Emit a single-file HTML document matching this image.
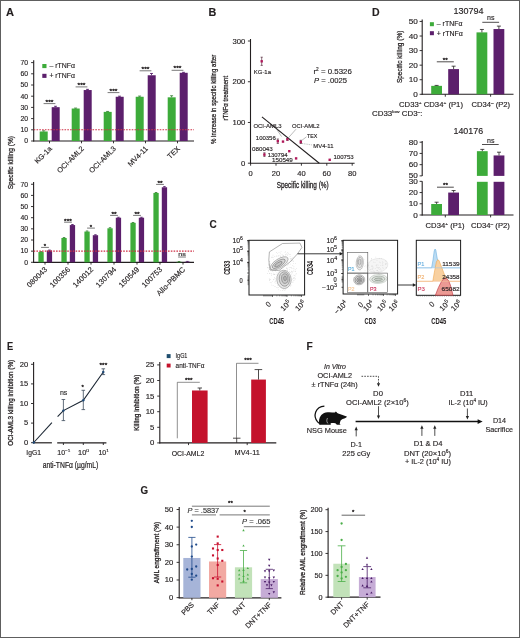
<!DOCTYPE html>
<html><head><meta charset="utf-8"><title>Figure</title>
<style>
html,body{margin:0;padding:0;background:#fff;}
body{width:520px;height:638px;overflow:hidden;position:relative;font-family:"Liberation Sans",sans-serif;}
#fig{position:absolute;left:0;top:0;width:520px;height:638px;will-change:transform;}
#frame{position:absolute;left:0;top:0;width:518px;height:636px;border:1px solid #5e5e5e;pointer-events:none;}
</style></head><body>
<div id="fig">
<svg width="520" height="638" viewBox="0 0 520 638" font-family="'Liberation Sans', sans-serif" fill="#231f20">
<text stroke="#231f20" stroke-width="0.15" x="6" y="15.6" font-size="10.6" font-weight="bold" textLength="8" lengthAdjust="spacingAndGlyphs">A</text>
<line x1="33.7" y1="60.2" x2="33.7" y2="141.5" stroke="#231f20" stroke-width="1.1" />
<line x1="31.1" y1="141" x2="33.7" y2="141" stroke="#231f20" stroke-width="0.9" />
<text stroke="#231f20" stroke-width="0.15" x="28" y="143.34" font-size="6.5" text-anchor="end" textLength="3.8" lengthAdjust="spacingAndGlyphs">0</text>
<line x1="31.1" y1="129.8" x2="33.7" y2="129.8" stroke="#231f20" stroke-width="0.9" />
<text stroke="#231f20" stroke-width="0.15" x="28" y="132.14" font-size="6.5" text-anchor="end" textLength="7.6" lengthAdjust="spacingAndGlyphs">10</text>
<line x1="31.1" y1="118.6" x2="33.7" y2="118.6" stroke="#231f20" stroke-width="0.9" />
<text stroke="#231f20" stroke-width="0.15" x="28" y="120.94" font-size="6.5" text-anchor="end" textLength="7.6" lengthAdjust="spacingAndGlyphs">20</text>
<line x1="31.1" y1="107.4" x2="33.7" y2="107.4" stroke="#231f20" stroke-width="0.9" />
<text stroke="#231f20" stroke-width="0.15" x="28" y="109.74" font-size="6.5" text-anchor="end" textLength="7.6" lengthAdjust="spacingAndGlyphs">30</text>
<line x1="31.1" y1="96.2" x2="33.7" y2="96.2" stroke="#231f20" stroke-width="0.9" />
<text stroke="#231f20" stroke-width="0.15" x="28" y="98.54" font-size="6.5" text-anchor="end" textLength="7.6" lengthAdjust="spacingAndGlyphs">40</text>
<line x1="31.1" y1="85" x2="33.7" y2="85" stroke="#231f20" stroke-width="0.9" />
<text stroke="#231f20" stroke-width="0.15" x="28" y="87.34" font-size="6.5" text-anchor="end" textLength="7.6" lengthAdjust="spacingAndGlyphs">50</text>
<line x1="31.1" y1="73.8" x2="33.7" y2="73.8" stroke="#231f20" stroke-width="0.9" />
<text stroke="#231f20" stroke-width="0.15" x="28" y="76.14" font-size="6.5" text-anchor="end" textLength="7.6" lengthAdjust="spacingAndGlyphs">60</text>
<line x1="31.1" y1="62.6" x2="33.7" y2="62.6" stroke="#231f20" stroke-width="0.9" />
<text stroke="#231f20" stroke-width="0.15" x="28" y="64.94" font-size="6.5" text-anchor="end" textLength="7.6" lengthAdjust="spacingAndGlyphs">70</text>
<line x1="33.2" y1="141" x2="194" y2="141" stroke="#231f20" stroke-width="1.2" />
<rect x="39.7" y="131.48" width="8" height="9.52" fill="#3dab3a" />
<rect x="51.7" y="107.18" width="8" height="33.82" fill="#5c1f6c" />
<line x1="43.6" y1="130.81" x2="43.6" y2="131.48" stroke="#2c7a2a" stroke-width="0.8" />
<line x1="42.1" y1="130.81" x2="45.1" y2="130.81" stroke="#2c7a2a" stroke-width="0.8" />
<line x1="55.5" y1="106.28" x2="55.5" y2="107.18" stroke="#4a1060" stroke-width="0.8" />
<line x1="54" y1="106.28" x2="57" y2="106.28" stroke="#4a1060" stroke-width="0.8" />
<line x1="49.5" y1="141" x2="49.5" y2="143.3" stroke="#231f20" stroke-width="0.9" />
<line x1="43.6" y1="103.6" x2="55.4" y2="103.6" stroke="#6a6a6a" stroke-width="0.9" />
<text stroke="#231f20" stroke-width="0.3" x="49.5" y="103.76" font-size="6" text-anchor="middle" textLength="7.8" lengthAdjust="spacingAndGlyphs">***</text>
<text stroke="#231f20" stroke-width="0.15" transform="translate(52.4,149.2) rotate(-45)" x="0" y="0" font-size="7.3" text-anchor="end">KG-1a</text>
<rect x="71.7" y="108.52" width="8" height="32.48" fill="#3dab3a" />
<rect x="83.7" y="90.04" width="8" height="50.96" fill="#5c1f6c" />
<line x1="75.6" y1="108.07" x2="75.6" y2="108.52" stroke="#2c7a2a" stroke-width="0.8" />
<line x1="74.1" y1="108.07" x2="77.1" y2="108.07" stroke="#2c7a2a" stroke-width="0.8" />
<line x1="87.5" y1="89.37" x2="87.5" y2="90.04" stroke="#4a1060" stroke-width="0.8" />
<line x1="86" y1="89.37" x2="89" y2="89.37" stroke="#4a1060" stroke-width="0.8" />
<line x1="81.5" y1="141" x2="81.5" y2="143.3" stroke="#231f20" stroke-width="0.9" />
<line x1="75.6" y1="86.9" x2="87.4" y2="86.9" stroke="#6a6a6a" stroke-width="0.9" />
<text stroke="#231f20" stroke-width="0.3" x="81.5" y="87.06" font-size="6" text-anchor="middle" textLength="7.8" lengthAdjust="spacingAndGlyphs">***</text>
<text stroke="#231f20" stroke-width="0.15" transform="translate(84.4,149.2) rotate(-45)" x="0" y="0" font-size="7.3" text-anchor="end">OCI-AML2</text>
<rect x="103.7" y="111.88" width="8" height="29.12" fill="#3dab3a" />
<rect x="115.7" y="96.76" width="8" height="44.24" fill="#5c1f6c" />
<line x1="107.6" y1="111.43" x2="107.6" y2="111.88" stroke="#2c7a2a" stroke-width="0.8" />
<line x1="106.1" y1="111.43" x2="109.1" y2="111.43" stroke="#2c7a2a" stroke-width="0.8" />
<line x1="119.5" y1="96.2" x2="119.5" y2="96.76" stroke="#4a1060" stroke-width="0.8" />
<line x1="118" y1="96.2" x2="121" y2="96.2" stroke="#4a1060" stroke-width="0.8" />
<line x1="113.5" y1="141" x2="113.5" y2="143.3" stroke="#231f20" stroke-width="0.9" />
<line x1="107.6" y1="92.6" x2="119.4" y2="92.6" stroke="#6a6a6a" stroke-width="0.9" />
<text stroke="#231f20" stroke-width="0.3" x="113.5" y="92.76" font-size="6" text-anchor="middle" textLength="7.8" lengthAdjust="spacingAndGlyphs">***</text>
<text stroke="#231f20" stroke-width="0.15" transform="translate(116.4,149.2) rotate(-45)" x="0" y="0" font-size="7.3" text-anchor="end">OCI-AML3</text>
<rect x="135.7" y="96.76" width="8" height="44.24" fill="#3dab3a" />
<rect x="147.7" y="75.26" width="8" height="65.74" fill="#5c1f6c" />
<line x1="139.6" y1="96.09" x2="139.6" y2="96.76" stroke="#2c7a2a" stroke-width="0.8" />
<line x1="138.1" y1="96.09" x2="141.1" y2="96.09" stroke="#2c7a2a" stroke-width="0.8" />
<line x1="151.5" y1="73.46" x2="151.5" y2="75.26" stroke="#4a1060" stroke-width="0.8" />
<line x1="150" y1="73.46" x2="153" y2="73.46" stroke="#4a1060" stroke-width="0.8" />
<line x1="145.5" y1="141" x2="145.5" y2="143.3" stroke="#231f20" stroke-width="0.9" />
<line x1="139.6" y1="70.8" x2="151.4" y2="70.8" stroke="#6a6a6a" stroke-width="0.9" />
<text stroke="#231f20" stroke-width="0.3" x="145.5" y="70.96" font-size="6" text-anchor="middle" textLength="7.8" lengthAdjust="spacingAndGlyphs">***</text>
<text stroke="#231f20" stroke-width="0.15" transform="translate(148.4,149.2) rotate(-45)" x="0" y="0" font-size="7.3" text-anchor="end">MV4-11</text>
<rect x="167.7" y="97.32" width="8" height="43.68" fill="#3dab3a" />
<rect x="179.7" y="72.79" width="8" height="68.21" fill="#5c1f6c" />
<line x1="171.6" y1="95.75" x2="171.6" y2="97.32" stroke="#2c7a2a" stroke-width="0.8" />
<line x1="170.1" y1="95.75" x2="173.1" y2="95.75" stroke="#2c7a2a" stroke-width="0.8" />
<line x1="183.5" y1="72.34" x2="183.5" y2="72.79" stroke="#4a1060" stroke-width="0.8" />
<line x1="182" y1="72.34" x2="185" y2="72.34" stroke="#4a1060" stroke-width="0.8" />
<line x1="177.5" y1="141" x2="177.5" y2="143.3" stroke="#231f20" stroke-width="0.9" />
<line x1="171.6" y1="70.3" x2="183.4" y2="70.3" stroke="#6a6a6a" stroke-width="0.9" />
<text stroke="#231f20" stroke-width="0.3" x="177.5" y="70.46" font-size="6" text-anchor="middle" textLength="7.8" lengthAdjust="spacingAndGlyphs">***</text>
<text stroke="#231f20" stroke-width="0.15" transform="translate(180.4,149.2) rotate(-45)" x="0" y="0" font-size="7.3" text-anchor="end">TEX</text>
<line x1="33.7" y1="129.8" x2="194" y2="129.8" stroke="#cf3045" stroke-width="1.1" stroke-dasharray="1.6,1.2" />
<rect x="42.3" y="64" width="4.2" height="4.1" fill="#3dab3a" />
<rect x="42.3" y="73.8" width="4.2" height="4.1" fill="#5c1f6c" />
<text stroke="#231f20" stroke-width="0.15" x="49.4" y="68.3" font-size="7" textLength="25.6" lengthAdjust="spacingAndGlyphs">– rTNFα</text>
<text stroke="#231f20" stroke-width="0.15" x="49.4" y="78.1" font-size="7" textLength="25.6" lengthAdjust="spacingAndGlyphs">+ rTNFα</text>
<text stroke="#231f20" stroke-width="0.28" transform="translate(12.8,162.7) rotate(-90)" x="0" y="0" font-size="7.8" text-anchor="middle" textLength="53.3" lengthAdjust="spacingAndGlyphs">Specific killing (%)</text>
<line x1="33.6" y1="182" x2="33.6" y2="262.8" stroke="#231f20" stroke-width="1.1" />
<line x1="31" y1="262.3" x2="33.6" y2="262.3" stroke="#231f20" stroke-width="0.9" />
<text stroke="#231f20" stroke-width="0.15" x="28" y="264.64" font-size="6.5" text-anchor="end" textLength="3.8" lengthAdjust="spacingAndGlyphs">0</text>
<line x1="31" y1="251.15" x2="33.6" y2="251.15" stroke="#231f20" stroke-width="0.9" />
<text stroke="#231f20" stroke-width="0.15" x="28" y="253.49" font-size="6.5" text-anchor="end" textLength="7.6" lengthAdjust="spacingAndGlyphs">10</text>
<line x1="31" y1="240" x2="33.6" y2="240" stroke="#231f20" stroke-width="0.9" />
<text stroke="#231f20" stroke-width="0.15" x="28" y="242.34" font-size="6.5" text-anchor="end" textLength="7.6" lengthAdjust="spacingAndGlyphs">20</text>
<line x1="31" y1="228.85" x2="33.6" y2="228.85" stroke="#231f20" stroke-width="0.9" />
<text stroke="#231f20" stroke-width="0.15" x="28" y="231.19" font-size="6.5" text-anchor="end" textLength="7.6" lengthAdjust="spacingAndGlyphs">30</text>
<line x1="31" y1="217.7" x2="33.6" y2="217.7" stroke="#231f20" stroke-width="0.9" />
<text stroke="#231f20" stroke-width="0.15" x="28" y="220.04" font-size="6.5" text-anchor="end" textLength="7.6" lengthAdjust="spacingAndGlyphs">40</text>
<line x1="31" y1="206.55" x2="33.6" y2="206.55" stroke="#231f20" stroke-width="0.9" />
<text stroke="#231f20" stroke-width="0.15" x="28" y="208.89" font-size="6.5" text-anchor="end" textLength="7.6" lengthAdjust="spacingAndGlyphs">50</text>
<line x1="31" y1="195.4" x2="33.6" y2="195.4" stroke="#231f20" stroke-width="0.9" />
<text stroke="#231f20" stroke-width="0.15" x="28" y="197.74" font-size="6.5" text-anchor="end" textLength="7.6" lengthAdjust="spacingAndGlyphs">60</text>
<line x1="31" y1="184.25" x2="33.6" y2="184.25" stroke="#231f20" stroke-width="0.9" />
<text stroke="#231f20" stroke-width="0.15" x="28" y="186.59" font-size="6.5" text-anchor="end" textLength="7.6" lengthAdjust="spacingAndGlyphs">70</text>
<line x1="33.1" y1="262.3" x2="194" y2="262.3" stroke="#231f20" stroke-width="1.2" />
<rect x="38.4" y="252.04" width="5.3" height="10.26" fill="#3dab3a" />
<rect x="46.8" y="250.48" width="5.3" height="11.82" fill="#5c1f6c" />
<line x1="41.05" y1="251.6" x2="41.05" y2="252.04" stroke="#2c7a2a" stroke-width="0.8" />
<line x1="39.8" y1="251.6" x2="42.3" y2="251.6" stroke="#2c7a2a" stroke-width="0.8" />
<line x1="49.45" y1="250.04" x2="49.45" y2="250.48" stroke="#4a1060" stroke-width="0.8" />
<line x1="48.2" y1="250.04" x2="50.7" y2="250.04" stroke="#4a1060" stroke-width="0.8" />
<line x1="45" y1="262.3" x2="45" y2="264.6" stroke="#231f20" stroke-width="0.9" />
<line x1="41.1" y1="247.4" x2="48.9" y2="247.4" stroke="#6a6a6a" stroke-width="0.9" />
<text stroke="#231f20" stroke-width="0.3" x="45" y="248.16" font-size="6" text-anchor="middle">*</text>
<text stroke="#231f20" stroke-width="0.15" transform="translate(47.7,270) rotate(-45)" x="0" y="0" font-size="7.6" text-anchor="end">080043</text>
<rect x="61.4" y="237.99" width="5.3" height="24.31" fill="#3dab3a" />
<rect x="69.8" y="225.06" width="5.3" height="37.24" fill="#5c1f6c" />
<line x1="64.05" y1="237.55" x2="64.05" y2="237.99" stroke="#2c7a2a" stroke-width="0.8" />
<line x1="62.8" y1="237.55" x2="65.3" y2="237.55" stroke="#2c7a2a" stroke-width="0.8" />
<line x1="72.45" y1="224.5" x2="72.45" y2="225.06" stroke="#4a1060" stroke-width="0.8" />
<line x1="71.2" y1="224.5" x2="73.7" y2="224.5" stroke="#4a1060" stroke-width="0.8" />
<line x1="68" y1="262.3" x2="68" y2="264.6" stroke="#231f20" stroke-width="0.9" />
<line x1="64.1" y1="222.2" x2="71.9" y2="222.2" stroke="#6a6a6a" stroke-width="0.9" />
<text stroke="#231f20" stroke-width="0.3" x="68" y="222.96" font-size="6" text-anchor="middle" textLength="7.8" lengthAdjust="spacingAndGlyphs">***</text>
<text stroke="#231f20" stroke-width="0.15" transform="translate(70.7,270) rotate(-45)" x="0" y="0" font-size="7.6" text-anchor="end">100356</text>
<rect x="84.4" y="231.53" width="5.3" height="30.77" fill="#3dab3a" />
<rect x="92.8" y="235.21" width="5.3" height="27.09" fill="#5c1f6c" />
<line x1="87.05" y1="230.97" x2="87.05" y2="231.53" stroke="#2c7a2a" stroke-width="0.8" />
<line x1="85.8" y1="230.97" x2="88.3" y2="230.97" stroke="#2c7a2a" stroke-width="0.8" />
<line x1="95.45" y1="234.76" x2="95.45" y2="235.21" stroke="#4a1060" stroke-width="0.8" />
<line x1="94.2" y1="234.76" x2="96.7" y2="234.76" stroke="#4a1060" stroke-width="0.8" />
<line x1="91" y1="262.3" x2="91" y2="264.6" stroke="#231f20" stroke-width="0.9" />
<line x1="87.1" y1="228.1" x2="94.9" y2="228.1" stroke="#6a6a6a" stroke-width="0.9" />
<text stroke="#231f20" stroke-width="0.3" x="91" y="228.86" font-size="6" text-anchor="middle">*</text>
<text stroke="#231f20" stroke-width="0.15" transform="translate(93.7,270) rotate(-45)" x="0" y="0" font-size="7.6" text-anchor="end">140012</text>
<rect x="107.4" y="228.29" width="5.3" height="34.01" fill="#3dab3a" />
<rect x="115.8" y="217.7" width="5.3" height="44.6" fill="#5c1f6c" />
<line x1="110.05" y1="227.74" x2="110.05" y2="228.29" stroke="#2c7a2a" stroke-width="0.8" />
<line x1="108.8" y1="227.74" x2="111.3" y2="227.74" stroke="#2c7a2a" stroke-width="0.8" />
<line x1="118.45" y1="217.25" x2="118.45" y2="217.7" stroke="#4a1060" stroke-width="0.8" />
<line x1="117.2" y1="217.25" x2="119.7" y2="217.25" stroke="#4a1060" stroke-width="0.8" />
<line x1="114" y1="262.3" x2="114" y2="264.6" stroke="#231f20" stroke-width="0.9" />
<line x1="110.1" y1="215.4" x2="117.9" y2="215.4" stroke="#6a6a6a" stroke-width="0.9" />
<text stroke="#231f20" stroke-width="0.3" x="114" y="216.16" font-size="6" text-anchor="middle" textLength="5.2" lengthAdjust="spacingAndGlyphs">**</text>
<text stroke="#231f20" stroke-width="0.15" transform="translate(116.7,270) rotate(-45)" x="0" y="0" font-size="7.6" text-anchor="end">130794</text>
<rect x="130.4" y="222.83" width="5.3" height="39.47" fill="#3dab3a" />
<rect x="138.8" y="217.7" width="5.3" height="44.6" fill="#5c1f6c" />
<line x1="133.05" y1="222.49" x2="133.05" y2="222.83" stroke="#2c7a2a" stroke-width="0.8" />
<line x1="131.8" y1="222.49" x2="134.3" y2="222.49" stroke="#2c7a2a" stroke-width="0.8" />
<line x1="141.45" y1="217.25" x2="141.45" y2="217.7" stroke="#4a1060" stroke-width="0.8" />
<line x1="140.2" y1="217.25" x2="142.7" y2="217.25" stroke="#4a1060" stroke-width="0.8" />
<line x1="137" y1="262.3" x2="137" y2="264.6" stroke="#231f20" stroke-width="0.9" />
<line x1="133.1" y1="215.4" x2="140.9" y2="215.4" stroke="#6a6a6a" stroke-width="0.9" />
<text stroke="#231f20" stroke-width="0.3" x="137" y="216.16" font-size="6" text-anchor="middle" textLength="5.2" lengthAdjust="spacingAndGlyphs">**</text>
<text stroke="#231f20" stroke-width="0.15" transform="translate(139.7,270) rotate(-45)" x="0" y="0" font-size="7.6" text-anchor="end">150549</text>
<rect x="153.4" y="192.95" width="5.3" height="69.35" fill="#3dab3a" />
<rect x="161.8" y="187.26" width="5.3" height="75.04" fill="#5c1f6c" />
<line x1="156.05" y1="192.5" x2="156.05" y2="192.95" stroke="#2c7a2a" stroke-width="0.8" />
<line x1="154.8" y1="192.5" x2="157.3" y2="192.5" stroke="#2c7a2a" stroke-width="0.8" />
<line x1="164.45" y1="186.59" x2="164.45" y2="187.26" stroke="#4a1060" stroke-width="0.8" />
<line x1="163.2" y1="186.59" x2="165.7" y2="186.59" stroke="#4a1060" stroke-width="0.8" />
<line x1="160" y1="262.3" x2="160" y2="264.6" stroke="#231f20" stroke-width="0.9" />
<line x1="156.1" y1="184.4" x2="163.9" y2="184.4" stroke="#6a6a6a" stroke-width="0.9" />
<text stroke="#231f20" stroke-width="0.3" x="160" y="185.16" font-size="6" text-anchor="middle" textLength="5.2" lengthAdjust="spacingAndGlyphs">**</text>
<text stroke="#231f20" stroke-width="0.15" transform="translate(162.7,270) rotate(-45)" x="0" y="0" font-size="7.6" text-anchor="end">100753</text>
<rect x="176.4" y="261.85" width="5.3" height="0.45" fill="#3dab3a" />
<rect x="184.8" y="261.74" width="5.3" height="0.56" fill="#5c1f6c" />
<line x1="179.05" y1="261.52" x2="179.05" y2="261.85" stroke="#2c7a2a" stroke-width="0.8" />
<line x1="177.8" y1="261.52" x2="180.3" y2="261.52" stroke="#2c7a2a" stroke-width="0.8" />
<line x1="187.45" y1="261.41" x2="187.45" y2="261.74" stroke="#4a1060" stroke-width="0.8" />
<line x1="186.2" y1="261.41" x2="188.7" y2="261.41" stroke="#4a1060" stroke-width="0.8" />
<line x1="183" y1="262.3" x2="183" y2="264.6" stroke="#231f20" stroke-width="0.9" />
<line x1="178.1" y1="257" x2="185.9" y2="257" stroke="#6a6a6a" stroke-width="0.9" />
<text stroke="#231f20" stroke-width="0.15" x="182" y="255.6" font-size="6.2" text-anchor="middle" textLength="7.6" lengthAdjust="spacingAndGlyphs">ns</text>
<text stroke="#231f20" stroke-width="0.15" transform="translate(185.7,270) rotate(-45)" x="0" y="0" font-size="7.6" text-anchor="end">Allo-PBMC</text>
<line x1="33.6" y1="251.15" x2="194" y2="251.15" stroke="#cf3045" stroke-width="1.1" stroke-dasharray="1.6,1.2" />
<text stroke="#231f20" stroke-width="0.15" x="208.6" y="16.3" font-size="10.6" font-weight="bold" textLength="7.8" lengthAdjust="spacingAndGlyphs">B</text>
<line x1="250.5" y1="39" x2="250.5" y2="163.7" stroke="#231f20" stroke-width="1.1" />
<line x1="247.9" y1="163.2" x2="250.5" y2="163.2" stroke="#231f20" stroke-width="0.9" />
<text stroke="#231f20" stroke-width="0.15" x="245.4" y="165.9" font-size="7.4" text-anchor="end" textLength="4.3" lengthAdjust="spacingAndGlyphs">0</text>
<line x1="247.9" y1="122.47" x2="250.5" y2="122.47" stroke="#231f20" stroke-width="0.9" />
<text stroke="#231f20" stroke-width="0.15" x="245.4" y="125.17" font-size="7.4" text-anchor="end" textLength="12.9" lengthAdjust="spacingAndGlyphs">100</text>
<line x1="247.9" y1="81.74" x2="250.5" y2="81.74" stroke="#231f20" stroke-width="0.9" />
<text stroke="#231f20" stroke-width="0.15" x="245.4" y="84.44" font-size="7.4" text-anchor="end" textLength="12.9" lengthAdjust="spacingAndGlyphs">200</text>
<line x1="247.9" y1="41.01" x2="250.5" y2="41.01" stroke="#231f20" stroke-width="0.9" />
<text stroke="#231f20" stroke-width="0.15" x="245.4" y="43.71" font-size="7.4" text-anchor="end" textLength="12.9" lengthAdjust="spacingAndGlyphs">300</text>
<line x1="250" y1="163.2" x2="354.6" y2="163.2" stroke="#231f20" stroke-width="1.1" />
<line x1="250.6" y1="163.2" x2="250.6" y2="165.7" stroke="#231f20" stroke-width="0.9" />
<text stroke="#231f20" stroke-width="0.15" x="250.6" y="176" font-size="7.4" text-anchor="middle" textLength="4.2" lengthAdjust="spacingAndGlyphs">0</text>
<line x1="276" y1="163.2" x2="276" y2="165.7" stroke="#231f20" stroke-width="0.9" />
<text stroke="#231f20" stroke-width="0.15" x="276" y="176" font-size="7.4" text-anchor="middle" textLength="8.4" lengthAdjust="spacingAndGlyphs">20</text>
<line x1="301.4" y1="163.2" x2="301.4" y2="165.7" stroke="#231f20" stroke-width="0.9" />
<text stroke="#231f20" stroke-width="0.15" x="301.4" y="176" font-size="7.4" text-anchor="middle" textLength="8.4" lengthAdjust="spacingAndGlyphs">40</text>
<line x1="326.8" y1="163.2" x2="326.8" y2="165.7" stroke="#231f20" stroke-width="0.9" />
<text stroke="#231f20" stroke-width="0.15" x="326.8" y="176" font-size="7.4" text-anchor="middle" textLength="8.4" lengthAdjust="spacingAndGlyphs">60</text>
<line x1="352.2" y1="163.2" x2="352.2" y2="165.7" stroke="#231f20" stroke-width="0.9" />
<text stroke="#231f20" stroke-width="0.15" x="352.2" y="176" font-size="7.4" text-anchor="middle" textLength="8.4" lengthAdjust="spacingAndGlyphs">80</text>
<text stroke="#231f20" stroke-width="0.28" x="302.7" y="187.8" font-size="8.3" text-anchor="middle" textLength="52" lengthAdjust="spacingAndGlyphs">Specific killing (%)</text>
<text stroke="#231f20" stroke-width="0.28" transform="translate(215.5,99.4) rotate(-90)" x="0" y="0" font-size="8" text-anchor="middle" textLength="89.3" lengthAdjust="spacingAndGlyphs">% increase in specific killing after</text>
<text stroke="#231f20" stroke-width="0.28" transform="translate(228.2,98.2) rotate(-90)" x="0" y="0" font-size="8" text-anchor="middle" textLength="44.6" lengthAdjust="spacingAndGlyphs">rTNFα treatment</text>
<line x1="261.9" y1="116.9" x2="319.3" y2="163.2" stroke="#231f20" stroke-width="1.1" />
<line x1="261.7" y1="57.2" x2="261.7" y2="65.4" stroke="#3a0a20" stroke-width="0.6" />
<line x1="260.6" y1="57.2" x2="262.8" y2="57.2" stroke="#3a0a20" stroke-width="0.6" />
<line x1="260.6" y1="65.4" x2="262.8" y2="65.4" stroke="#3a0a20" stroke-width="0.6" />
<rect x="260.5" y="60.1" width="2.4" height="2.4" fill="#b0185a" />
<line x1="277.8" y1="139" x2="277.8" y2="143.4" stroke="#3a0a20" stroke-width="0.6" />
<line x1="276.7" y1="139" x2="278.9" y2="139" stroke="#3a0a20" stroke-width="0.6" />
<line x1="276.7" y1="143.4" x2="278.9" y2="143.4" stroke="#3a0a20" stroke-width="0.6" />
<rect x="276.6" y="140" width="2.4" height="2.4" fill="#b0185a" />
<rect x="281.8" y="140.4" width="2.4" height="2.4" fill="#b0185a" />
<line x1="287.4" y1="138.4" x2="287.4" y2="140.4" stroke="#3a0a20" stroke-width="0.6" />
<line x1="286.3" y1="138.4" x2="288.5" y2="138.4" stroke="#3a0a20" stroke-width="0.6" />
<line x1="286.3" y1="140.4" x2="288.5" y2="140.4" stroke="#3a0a20" stroke-width="0.6" />
<rect x="286.2" y="138.2" width="2.4" height="2.4" fill="#b0185a" />
<line x1="264.4" y1="152.8" x2="264.4" y2="156.4" stroke="#3a0a20" stroke-width="0.6" />
<line x1="263.3" y1="152.8" x2="265.5" y2="152.8" stroke="#3a0a20" stroke-width="0.6" />
<line x1="263.3" y1="156.4" x2="265.5" y2="156.4" stroke="#3a0a20" stroke-width="0.6" />
<rect x="263.2" y="153.4" width="2.4" height="2.4" fill="#b0185a" />
<rect x="288.1" y="150" width="2.4" height="2.4" fill="#b0185a" />
<rect x="294.9" y="157.2" width="2.4" height="2.4" fill="#b0185a" />
<line x1="300.8" y1="140.3" x2="300.8" y2="143.5" stroke="#3a0a20" stroke-width="0.6" />
<line x1="299.7" y1="140.3" x2="301.9" y2="140.3" stroke="#3a0a20" stroke-width="0.6" />
<line x1="299.7" y1="143.5" x2="301.9" y2="143.5" stroke="#3a0a20" stroke-width="0.6" />
<rect x="299.6" y="140.7" width="2.4" height="2.4" fill="#b0185a" />
<rect x="328.5" y="158.6" width="2.4" height="2.4" fill="#b0185a" />
<text stroke="#231f20" stroke-width="0.15" x="253.8" y="74.2" font-size="6.2" textLength="17.2" lengthAdjust="spacingAndGlyphs">KG-1a</text>
<text stroke="#231f20" stroke-width="0.15" x="253.4" y="128.4" font-size="6.2" textLength="28.2" lengthAdjust="spacingAndGlyphs">OCI-AML3</text>
<text stroke="#231f20" stroke-width="0.15" x="292" y="128.4" font-size="6.2" textLength="27.6" lengthAdjust="spacingAndGlyphs">OCI-AML2</text>
<text stroke="#231f20" stroke-width="0.15" x="255.8" y="140.3" font-size="6.2" textLength="20" lengthAdjust="spacingAndGlyphs">100356</text>
<text stroke="#231f20" stroke-width="0.15" x="252" y="151.3" font-size="6.2" textLength="20.8" lengthAdjust="spacingAndGlyphs">080043</text>
<text stroke="#231f20" stroke-width="0.15" x="267.7" y="156.8" font-size="6.2" textLength="19.8" lengthAdjust="spacingAndGlyphs">130794</text>
<text stroke="#231f20" stroke-width="0.15" x="272" y="162" font-size="6.2" textLength="20.8" lengthAdjust="spacingAndGlyphs">150549</text>
<text stroke="#231f20" stroke-width="0.15" x="307" y="137.6" font-size="6.2" textLength="10.2" lengthAdjust="spacingAndGlyphs">TEX</text>
<text stroke="#231f20" stroke-width="0.15" x="313.3" y="147.8" font-size="6.2" textLength="20.2" lengthAdjust="spacingAndGlyphs">MV4-11</text>
<text stroke="#231f20" stroke-width="0.15" x="333.5" y="158.9" font-size="6.2" textLength="20.2" lengthAdjust="spacingAndGlyphs">100753</text>
<line x1="288.4" y1="137.8" x2="296" y2="129.2" stroke="#777" stroke-width="0.5" />
<line x1="301.5" y1="140.6" x2="306.5" y2="136.8" stroke="#777" stroke-width="0.5" />
<line x1="302" y1="143.5" x2="312.5" y2="145" stroke="#777" stroke-width="0.5" stroke-dasharray="1,0.8" />
<line x1="276.3" y1="128.8" x2="281.5" y2="136.5" stroke="#777" stroke-width="0.5" />
<text stroke="#231f20" stroke-width="0.15" x="313.5" y="73.9" font-size="7.6" textLength="38.3" lengthAdjust="spacingAndGlyphs">r<tspan font-size="4.6" dy="-2.6">2</tspan><tspan dy="2.6"> = 0.5326</tspan></text>
<text stroke="#231f20" stroke-width="0.15" x="314" y="82.7" font-size="7.6" textLength="33" lengthAdjust="spacingAndGlyphs"><tspan font-style="italic">P</tspan> = .0025</text>
<text stroke="#231f20" stroke-width="0.15" x="372" y="15.6" font-size="10.6" font-weight="bold" textLength="7.6" lengthAdjust="spacingAndGlyphs">D</text>
<text stroke="#231f20" stroke-width="0.15" x="468.4" y="14.2" font-size="8.4" text-anchor="middle" textLength="30" lengthAdjust="spacingAndGlyphs">130794</text>
<line x1="422.2" y1="19.5" x2="422.2" y2="94.8" stroke="#231f20" stroke-width="1.1" />
<line x1="419.6" y1="94.3" x2="422.2" y2="94.3" stroke="#231f20" stroke-width="0.9" />
<text stroke="#231f20" stroke-width="0.15" x="417.8" y="96.9" font-size="7.4" text-anchor="end" textLength="4.55" lengthAdjust="spacingAndGlyphs">0</text>
<line x1="419.6" y1="79.73" x2="422.2" y2="79.73" stroke="#231f20" stroke-width="0.9" />
<text stroke="#231f20" stroke-width="0.15" x="417.8" y="82.33" font-size="7.4" text-anchor="end" textLength="9.1" lengthAdjust="spacingAndGlyphs">10</text>
<line x1="419.6" y1="65.16" x2="422.2" y2="65.16" stroke="#231f20" stroke-width="0.9" />
<text stroke="#231f20" stroke-width="0.15" x="417.8" y="67.76" font-size="7.4" text-anchor="end" textLength="9.1" lengthAdjust="spacingAndGlyphs">20</text>
<line x1="419.6" y1="50.59" x2="422.2" y2="50.59" stroke="#231f20" stroke-width="0.9" />
<text stroke="#231f20" stroke-width="0.15" x="417.8" y="53.19" font-size="7.4" text-anchor="end" textLength="9.1" lengthAdjust="spacingAndGlyphs">30</text>
<line x1="419.6" y1="36.02" x2="422.2" y2="36.02" stroke="#231f20" stroke-width="0.9" />
<text stroke="#231f20" stroke-width="0.15" x="417.8" y="38.62" font-size="7.4" text-anchor="end" textLength="9.1" lengthAdjust="spacingAndGlyphs">40</text>
<line x1="419.6" y1="21.45" x2="422.2" y2="21.45" stroke="#231f20" stroke-width="0.9" />
<text stroke="#231f20" stroke-width="0.15" x="417.8" y="24.05" font-size="7.4" text-anchor="end" textLength="9.1" lengthAdjust="spacingAndGlyphs">50</text>
<line x1="421.7" y1="94.3" x2="513.5" y2="94.3" stroke="#231f20" stroke-width="1.1" />
<line x1="445.3" y1="94.3" x2="445.3" y2="96.7" stroke="#231f20" stroke-width="0.9" />
<line x1="490.6" y1="94.3" x2="490.6" y2="96.7" stroke="#231f20" stroke-width="0.9" />
<rect x="431.2" y="85.85" width="10.8" height="8.45" fill="#3dab3a" />
<rect x="448.2" y="69.09" width="10.8" height="25.21" fill="#5c1f6c" />
<line x1="436.6" y1="85.41" x2="436.6" y2="85.85" stroke="#231f20" stroke-width="0.8" />
<line x1="434.6" y1="85.41" x2="438.6" y2="85.41" stroke="#231f20" stroke-width="0.8" />
<line x1="453.6" y1="66.18" x2="453.6" y2="69.09" stroke="#231f20" stroke-width="0.8" />
<line x1="451.6" y1="66.18" x2="455.6" y2="66.18" stroke="#231f20" stroke-width="0.8" />
<rect x="476.5" y="32.38" width="10.8" height="61.92" fill="#3dab3a" />
<rect x="493.5" y="29.03" width="10.8" height="65.27" fill="#5c1f6c" />
<line x1="481.9" y1="29.46" x2="481.9" y2="32.38" stroke="#231f20" stroke-width="0.8" />
<line x1="479.9" y1="29.46" x2="483.9" y2="29.46" stroke="#231f20" stroke-width="0.8" />
<line x1="498.9" y1="26.11" x2="498.9" y2="29.03" stroke="#231f20" stroke-width="0.8" />
<line x1="496.9" y1="26.11" x2="500.9" y2="26.11" stroke="#231f20" stroke-width="0.8" />
<line x1="436.8" y1="61.8" x2="453.8" y2="61.8" stroke="#231f20" stroke-width="0.8" />
<text stroke="#231f20" stroke-width="0.3" x="445.2" y="62.46" font-size="6" text-anchor="middle" textLength="5" lengthAdjust="spacingAndGlyphs">**</text>
<line x1="482.3" y1="22.3" x2="499.1" y2="22.3" stroke="#231f20" stroke-width="0.8" />
<text stroke="#231f20" stroke-width="0.15" x="490.7" y="20.2" font-size="7" text-anchor="middle" textLength="7.4" lengthAdjust="spacingAndGlyphs">ns</text>
<rect x="429.9" y="22.2" width="4" height="4" fill="#3dab3a" />
<rect x="429.9" y="31.2" width="4" height="4" fill="#5c1f6c" />
<text stroke="#231f20" stroke-width="0.15" x="436.8" y="26.3" font-size="7" textLength="25.6" lengthAdjust="spacingAndGlyphs">– rTNFα</text>
<text stroke="#231f20" stroke-width="0.15" x="436.8" y="36.1" font-size="7" textLength="26" lengthAdjust="spacingAndGlyphs">+ rTNFα</text>
<text stroke="#231f20" stroke-width="0.28" transform="translate(402.2,56.9) rotate(-90)" x="0" y="0" font-size="7.6" text-anchor="middle" textLength="52.4" lengthAdjust="spacingAndGlyphs">Specific killing (%)</text>
<text stroke="#231f20" stroke-width="0.15" x="399" y="106.6" font-size="7" textLength="64" lengthAdjust="spacingAndGlyphs">CD33<tspan font-size="4.4" dy="-2.6">+</tspan><tspan dy="2.6"> CD34</tspan><tspan font-size="4.4" dy="-2.6">+</tspan><tspan dy="2.6"> (P1)</tspan></text>
<text stroke="#231f20" stroke-width="0.15" x="471.5" y="106.6" font-size="7" textLength="38.6" lengthAdjust="spacingAndGlyphs">CD34<tspan font-size="4.4" dy="-2.6">–</tspan><tspan dy="2.6"> (P2)</tspan></text>
<text stroke="#231f20" stroke-width="0.15" x="372" y="115.5" font-size="7" textLength="50.5" lengthAdjust="spacingAndGlyphs">CD33<tspan font-size="4.4" dy="-2.6">low</tspan><tspan dy="2.6"> CD3</tspan><tspan font-size="4.4" dy="-2.6">–</tspan><tspan dy="2.6">:</tspan></text>
<text stroke="#231f20" stroke-width="0.15" x="468.3" y="134.4" font-size="8.4" text-anchor="middle" textLength="29.6" lengthAdjust="spacingAndGlyphs">140176</text>
<line x1="422.2" y1="141" x2="422.2" y2="176.1" stroke="#231f20" stroke-width="1.1" />
<line x1="422.2" y1="181.3" x2="422.2" y2="215.5" stroke="#231f20" stroke-width="1.1" />
<line x1="419.6" y1="175.89" x2="422.2" y2="175.89" stroke="#231f20" stroke-width="0.9" />
<text stroke="#231f20" stroke-width="0.15" x="417.8" y="178.49" font-size="7.4" text-anchor="end" textLength="9.1" lengthAdjust="spacingAndGlyphs">50</text>
<line x1="419.6" y1="164.66" x2="422.2" y2="164.66" stroke="#231f20" stroke-width="0.9" />
<text stroke="#231f20" stroke-width="0.15" x="417.8" y="167.26" font-size="7.4" text-anchor="end" textLength="9.1" lengthAdjust="spacingAndGlyphs">60</text>
<line x1="419.6" y1="153.43" x2="422.2" y2="153.43" stroke="#231f20" stroke-width="0.9" />
<text stroke="#231f20" stroke-width="0.15" x="417.8" y="156.03" font-size="7.4" text-anchor="end" textLength="9.1" lengthAdjust="spacingAndGlyphs">70</text>
<line x1="419.6" y1="142.2" x2="422.2" y2="142.2" stroke="#231f20" stroke-width="0.9" />
<text stroke="#231f20" stroke-width="0.15" x="417.8" y="144.8" font-size="7.4" text-anchor="end" textLength="9.1" lengthAdjust="spacingAndGlyphs">80</text>
<line x1="419.6" y1="215" x2="422.2" y2="215" stroke="#231f20" stroke-width="0.9" />
<text stroke="#231f20" stroke-width="0.15" x="417.8" y="217.6" font-size="7.4" text-anchor="end" textLength="4.55" lengthAdjust="spacingAndGlyphs">0</text>
<line x1="419.6" y1="203.78" x2="422.2" y2="203.78" stroke="#231f20" stroke-width="0.9" />
<text stroke="#231f20" stroke-width="0.15" x="417.8" y="206.38" font-size="7.4" text-anchor="end" textLength="9.1" lengthAdjust="spacingAndGlyphs">10</text>
<line x1="419.6" y1="192.56" x2="422.2" y2="192.56" stroke="#231f20" stroke-width="0.9" />
<text stroke="#231f20" stroke-width="0.15" x="417.8" y="195.16" font-size="7.4" text-anchor="end" textLength="9.1" lengthAdjust="spacingAndGlyphs">20</text>
<line x1="419.6" y1="181.34" x2="422.2" y2="181.34" stroke="#231f20" stroke-width="0.9" />
<text stroke="#231f20" stroke-width="0.15" x="417.8" y="183.94" font-size="7.4" text-anchor="end" textLength="9.1" lengthAdjust="spacingAndGlyphs">30</text>
<line x1="421.7" y1="215" x2="513.5" y2="215" stroke="#231f20" stroke-width="1.1" />
<line x1="445.3" y1="215" x2="445.3" y2="217.4" stroke="#231f20" stroke-width="0.9" />
<line x1="490.6" y1="215" x2="490.6" y2="217.4" stroke="#231f20" stroke-width="0.9" />
<rect x="431.2" y="204" width="10.8" height="11" fill="#3dab3a" />
<rect x="448.2" y="192.56" width="10.8" height="22.44" fill="#5c1f6c" />
<line x1="436.6" y1="202.21" x2="436.6" y2="204" stroke="#231f20" stroke-width="0.8" />
<line x1="434.6" y1="202.21" x2="438.6" y2="202.21" stroke="#231f20" stroke-width="0.8" />
<line x1="453.6" y1="190.54" x2="453.6" y2="192.56" stroke="#231f20" stroke-width="0.8" />
<line x1="451.6" y1="190.54" x2="455.6" y2="190.54" stroke="#231f20" stroke-width="0.8" />
<rect x="476.9" y="151.18" width="10.8" height="24.72" fill="#3dab3a" />
<rect x="476.9" y="181.8" width="10.8" height="33.2" fill="#3dab3a" />
<line x1="482.3" y1="149.39" x2="482.3" y2="151.18" stroke="#231f20" stroke-width="0.8" />
<line x1="480.3" y1="149.39" x2="484.3" y2="149.39" stroke="#231f20" stroke-width="0.8" />
<rect x="493.6" y="155.45" width="10.8" height="20.45" fill="#5c1f6c" />
<rect x="493.6" y="181.8" width="10.8" height="33.2" fill="#5c1f6c" />
<line x1="499" y1="152.19" x2="499" y2="155.45" stroke="#231f20" stroke-width="0.8" />
<line x1="497" y1="152.19" x2="501" y2="152.19" stroke="#231f20" stroke-width="0.8" />
<line x1="437" y1="187.2" x2="453.8" y2="187.2" stroke="#231f20" stroke-width="0.8" />
<text stroke="#231f20" stroke-width="0.3" x="445.4" y="187.26" font-size="6" text-anchor="middle" textLength="5" lengthAdjust="spacingAndGlyphs">**</text>
<line x1="482" y1="144.5" x2="498.7" y2="144.5" stroke="#231f20" stroke-width="0.8" />
<text stroke="#231f20" stroke-width="0.15" x="490.7" y="142.5" font-size="7" text-anchor="middle" textLength="7.4" lengthAdjust="spacingAndGlyphs">ns</text>
<text stroke="#231f20" stroke-width="0.15" x="425.6" y="227.6" font-size="7" textLength="39" lengthAdjust="spacingAndGlyphs">CD34<tspan font-size="4.4" dy="-2.6">+</tspan><tspan dy="2.6"> (P1)</tspan></text>
<text stroke="#231f20" stroke-width="0.15" x="470.9" y="227.6" font-size="7" textLength="39" lengthAdjust="spacingAndGlyphs">CD34<tspan font-size="4.4" dy="-2.6">–</tspan><tspan dy="2.6"> (P2)</tspan></text>
<text stroke="#231f20" stroke-width="0.15" x="209.4" y="228" font-size="10.6" font-weight="bold" textLength="7.2" lengthAdjust="spacingAndGlyphs">C</text>
<rect x="249" y="240.3" width="55.6" height="54.7" fill="none" stroke="#1a1a1a" stroke-width="1" />
<line x1="247.6" y1="248.01" x2="249" y2="248.01" stroke="#333" stroke-width="0.45" />
<line x1="247.6" y1="246.14" x2="249" y2="246.14" stroke="#333" stroke-width="0.45" />
<line x1="247.6" y1="244.82" x2="249" y2="244.82" stroke="#333" stroke-width="0.45" />
<line x1="247.6" y1="243.79" x2="249" y2="243.79" stroke="#333" stroke-width="0.45" />
<line x1="247.6" y1="242.95" x2="249" y2="242.95" stroke="#333" stroke-width="0.45" />
<line x1="247.6" y1="242.24" x2="249" y2="242.24" stroke="#333" stroke-width="0.45" />
<line x1="247.6" y1="241.63" x2="249" y2="241.63" stroke="#333" stroke-width="0.45" />
<line x1="247.6" y1="241.09" x2="249" y2="241.09" stroke="#333" stroke-width="0.45" />
<line x1="247.6" y1="259.03" x2="249" y2="259.03" stroke="#333" stroke-width="0.45" />
<line x1="247.6" y1="257.06" x2="249" y2="257.06" stroke="#333" stroke-width="0.45" />
<line x1="247.6" y1="255.66" x2="249" y2="255.66" stroke="#333" stroke-width="0.45" />
<line x1="247.6" y1="254.57" x2="249" y2="254.57" stroke="#333" stroke-width="0.45" />
<line x1="247.6" y1="253.68" x2="249" y2="253.68" stroke="#333" stroke-width="0.45" />
<line x1="247.6" y1="252.93" x2="249" y2="252.93" stroke="#333" stroke-width="0.45" />
<line x1="247.6" y1="252.29" x2="249" y2="252.29" stroke="#333" stroke-width="0.45" />
<line x1="247.6" y1="251.71" x2="249" y2="251.71" stroke="#333" stroke-width="0.45" />
<line x1="247.6" y1="269.81" x2="249" y2="269.81" stroke="#333" stroke-width="0.45" />
<line x1="247.6" y1="267.94" x2="249" y2="267.94" stroke="#333" stroke-width="0.45" />
<line x1="247.6" y1="266.62" x2="249" y2="266.62" stroke="#333" stroke-width="0.45" />
<line x1="247.6" y1="265.59" x2="249" y2="265.59" stroke="#333" stroke-width="0.45" />
<line x1="247.6" y1="264.75" x2="249" y2="264.75" stroke="#333" stroke-width="0.45" />
<line x1="247.6" y1="264.04" x2="249" y2="264.04" stroke="#333" stroke-width="0.45" />
<line x1="247.6" y1="263.43" x2="249" y2="263.43" stroke="#333" stroke-width="0.45" />
<line x1="247.6" y1="262.89" x2="249" y2="262.89" stroke="#333" stroke-width="0.45" />
<line x1="247" y1="240.6" x2="249" y2="240.6" stroke="#222" stroke-width="0.6" />
<line x1="247" y1="251.2" x2="249" y2="251.2" stroke="#222" stroke-width="0.6" />
<line x1="247" y1="262.4" x2="249" y2="262.4" stroke="#222" stroke-width="0.6" />
<line x1="247" y1="273" x2="249" y2="273" stroke="#222" stroke-width="0.6" />
<line x1="247.6" y1="275.7" x2="249" y2="275.7" stroke="#333" stroke-width="0.45" />
<line x1="247.6" y1="276.6" x2="249" y2="276.6" stroke="#333" stroke-width="0.45" />
<line x1="247.6" y1="277.5" x2="249" y2="277.5" stroke="#333" stroke-width="0.45" />
<line x1="247.6" y1="278.4" x2="249" y2="278.4" stroke="#333" stroke-width="0.45" />
<line x1="247.6" y1="279.3" x2="249" y2="279.3" stroke="#333" stroke-width="0.45" />
<line x1="247.6" y1="280.2" x2="249" y2="280.2" stroke="#333" stroke-width="0.45" />
<line x1="247.6" y1="281.1" x2="249" y2="281.1" stroke="#333" stroke-width="0.45" />
<line x1="247.6" y1="282" x2="249" y2="282" stroke="#333" stroke-width="0.45" />
<line x1="247.6" y1="282.9" x2="249" y2="282.9" stroke="#333" stroke-width="0.45" />
<line x1="247.6" y1="283.8" x2="249" y2="283.8" stroke="#333" stroke-width="0.45" />
<line x1="247.6" y1="284.7" x2="249" y2="284.7" stroke="#333" stroke-width="0.45" />
<line x1="276.86" y1="295" x2="276.86" y2="296.4" stroke="#333" stroke-width="0.45" />
<line x1="279.42" y1="295" x2="279.42" y2="296.4" stroke="#333" stroke-width="0.45" />
<line x1="281.23" y1="295" x2="281.23" y2="296.4" stroke="#333" stroke-width="0.45" />
<line x1="282.64" y1="295" x2="282.64" y2="296.4" stroke="#333" stroke-width="0.45" />
<line x1="283.78" y1="295" x2="283.78" y2="296.4" stroke="#333" stroke-width="0.45" />
<line x1="284.75" y1="295" x2="284.75" y2="296.4" stroke="#333" stroke-width="0.45" />
<line x1="285.59" y1="295" x2="285.59" y2="296.4" stroke="#333" stroke-width="0.45" />
<line x1="286.34" y1="295" x2="286.34" y2="296.4" stroke="#333" stroke-width="0.45" />
<line x1="291.36" y1="295" x2="291.36" y2="296.4" stroke="#333" stroke-width="0.45" />
<line x1="293.92" y1="295" x2="293.92" y2="296.4" stroke="#333" stroke-width="0.45" />
<line x1="295.73" y1="295" x2="295.73" y2="296.4" stroke="#333" stroke-width="0.45" />
<line x1="297.14" y1="295" x2="297.14" y2="296.4" stroke="#333" stroke-width="0.45" />
<line x1="298.28" y1="295" x2="298.28" y2="296.4" stroke="#333" stroke-width="0.45" />
<line x1="299.25" y1="295" x2="299.25" y2="296.4" stroke="#333" stroke-width="0.45" />
<line x1="300.09" y1="295" x2="300.09" y2="296.4" stroke="#333" stroke-width="0.45" />
<line x1="300.84" y1="295" x2="300.84" y2="296.4" stroke="#333" stroke-width="0.45" />
<line x1="272.5" y1="295" x2="272.5" y2="297" stroke="#222" stroke-width="0.6" />
<line x1="287" y1="295" x2="287" y2="297" stroke="#222" stroke-width="0.6" />
<line x1="301.5" y1="295" x2="301.5" y2="297" stroke="#222" stroke-width="0.6" />
<line x1="263.5" y1="295" x2="263.5" y2="296.4" stroke="#333" stroke-width="0.45" />
<line x1="264.4" y1="295" x2="264.4" y2="296.4" stroke="#333" stroke-width="0.45" />
<line x1="265.3" y1="295" x2="265.3" y2="296.4" stroke="#333" stroke-width="0.45" />
<line x1="266.2" y1="295" x2="266.2" y2="296.4" stroke="#333" stroke-width="0.45" />
<line x1="267.1" y1="295" x2="267.1" y2="296.4" stroke="#333" stroke-width="0.45" />
<line x1="268" y1="295" x2="268" y2="296.4" stroke="#333" stroke-width="0.45" />
<line x1="268.9" y1="295" x2="268.9" y2="296.4" stroke="#333" stroke-width="0.45" />
<line x1="269.8" y1="295" x2="269.8" y2="296.4" stroke="#333" stroke-width="0.45" />
<line x1="270.7" y1="295" x2="270.7" y2="296.4" stroke="#333" stroke-width="0.45" />
<line x1="271.6" y1="295" x2="271.6" y2="296.4" stroke="#333" stroke-width="0.45" />
<line x1="272.5" y1="295" x2="272.5" y2="296.4" stroke="#333" stroke-width="0.45" />
<line x1="247.4" y1="240.6" x2="249" y2="240.6" stroke="#231f20" stroke-width="0.8" />
<line x1="247.4" y1="251.2" x2="249" y2="251.2" stroke="#231f20" stroke-width="0.8" />
<line x1="247.4" y1="262.4" x2="249" y2="262.4" stroke="#231f20" stroke-width="0.8" />
<line x1="247.4" y1="280.2" x2="249" y2="280.2" stroke="#231f20" stroke-width="0.8" />
<text stroke="#231f20" stroke-width="0.15" x="232.4" y="242.7" font-size="6.6" textLength="10.4" lengthAdjust="spacingAndGlyphs">10<tspan font-size="5" dy="-2.8">6</tspan></text>
<text stroke="#231f20" stroke-width="0.15" x="232.4" y="253.2" font-size="6.6" textLength="10.4" lengthAdjust="spacingAndGlyphs">10<tspan font-size="5" dy="-2.8">5</tspan></text>
<text stroke="#231f20" stroke-width="0.15" x="232.4" y="264.6" font-size="6.6" textLength="10.4" lengthAdjust="spacingAndGlyphs">10<tspan font-size="5" dy="-2.8">4</tspan></text>
<text stroke="#231f20" stroke-width="0.15" x="242.6" y="282.6" font-size="6.6" text-anchor="end" textLength="3.2" lengthAdjust="spacingAndGlyphs">0</text>
<text stroke="#231f20" stroke-width="0.05" transform="translate(229.6,267.8) rotate(-90)" x="0" y="0" font-size="9.4" text-anchor="middle" font-weight="bold" textLength="14.1" lengthAdjust="spacingAndGlyphs">CD33</text>
<text stroke="#231f20" stroke-width="0.05" x="276.7" y="324.4" font-size="9.8" text-anchor="middle" font-weight="bold" textLength="14.8" lengthAdjust="spacingAndGlyphs">CD45</text>
<text stroke="#231f20" stroke-width="0.15" transform="translate(271.5,304.7) rotate(-46)" x="0" y="0" font-size="7.6" text-anchor="end" textLength="4" lengthAdjust="spacingAndGlyphs">0</text>
<text stroke="#231f20" stroke-width="0.15" transform="translate(291.6,303.2) rotate(-46)" x="0" y="0" font-size="7.6" text-anchor="end" textLength="11.6" lengthAdjust="spacingAndGlyphs">10<tspan font-size="5.4" dy="-2.8">5</tspan></text>
<text stroke="#231f20" stroke-width="0.15" transform="translate(306.2,303.2) rotate(-46)" x="0" y="0" font-size="7.6" text-anchor="end" textLength="11.6" lengthAdjust="spacingAndGlyphs">10<tspan font-size="5.4" dy="-2.8">6</tspan></text>
<circle cx="279.39" cy="277.95" r="0.32" fill="#999" fill-opacity="0.6"/>
<circle cx="279.65" cy="266.63" r="0.32" fill="#999" fill-opacity="0.6"/>
<circle cx="273.16" cy="268.3" r="0.32" fill="#999" fill-opacity="0.6"/>
<circle cx="291.98" cy="276.08" r="0.32" fill="#999" fill-opacity="0.6"/>
<circle cx="291.6" cy="274.07" r="0.32" fill="#999" fill-opacity="0.6"/>
<circle cx="286.09" cy="273.56" r="0.32" fill="#999" fill-opacity="0.6"/>
<circle cx="269.87" cy="279.31" r="0.32" fill="#999" fill-opacity="0.6"/>
<circle cx="287.05" cy="277.63" r="0.32" fill="#999" fill-opacity="0.6"/>
<circle cx="271.83" cy="257.03" r="0.32" fill="#999" fill-opacity="0.6"/>
<circle cx="273.64" cy="265.13" r="0.32" fill="#999" fill-opacity="0.6"/>
<circle cx="285.2" cy="270.36" r="0.32" fill="#999" fill-opacity="0.6"/>
<circle cx="287.08" cy="262.64" r="0.32" fill="#999" fill-opacity="0.6"/>
<circle cx="285.17" cy="276.4" r="0.32" fill="#999" fill-opacity="0.6"/>
<circle cx="277.13" cy="287.86" r="0.32" fill="#999" fill-opacity="0.6"/>
<circle cx="286.82" cy="284.83" r="0.32" fill="#999" fill-opacity="0.6"/>
<circle cx="276.12" cy="261.65" r="0.32" fill="#999" fill-opacity="0.6"/>
<circle cx="278.41" cy="269.52" r="0.32" fill="#999" fill-opacity="0.6"/>
<circle cx="288.34" cy="274.32" r="0.32" fill="#999" fill-opacity="0.6"/>
<circle cx="277.84" cy="259.15" r="0.32" fill="#999" fill-opacity="0.6"/>
<circle cx="277.5" cy="285.08" r="0.32" fill="#999" fill-opacity="0.6"/>
<circle cx="274.14" cy="274.18" r="0.32" fill="#999" fill-opacity="0.6"/>
<circle cx="285.45" cy="254.92" r="0.32" fill="#999" fill-opacity="0.6"/>
<circle cx="282.42" cy="286.15" r="0.32" fill="#999" fill-opacity="0.6"/>
<circle cx="268.14" cy="268.05" r="0.32" fill="#999" fill-opacity="0.6"/>
<circle cx="280.96" cy="260.36" r="0.32" fill="#999" fill-opacity="0.6"/>
<circle cx="287.11" cy="270.14" r="0.32" fill="#999" fill-opacity="0.6"/>
<circle cx="270.64" cy="279.56" r="0.32" fill="#999" fill-opacity="0.6"/>
<circle cx="288.06" cy="282.42" r="0.32" fill="#999" fill-opacity="0.6"/>
<circle cx="293.89" cy="274.99" r="0.32" fill="#999" fill-opacity="0.6"/>
<circle cx="283.04" cy="255.92" r="0.32" fill="#999" fill-opacity="0.6"/>
<circle cx="287.96" cy="263.1" r="0.32" fill="#999" fill-opacity="0.6"/>
<circle cx="278.1" cy="256.48" r="0.32" fill="#999" fill-opacity="0.6"/>
<circle cx="273.12" cy="264.5" r="0.32" fill="#999" fill-opacity="0.6"/>
<circle cx="289.81" cy="254.58" r="0.32" fill="#999" fill-opacity="0.6"/>
<circle cx="269.94" cy="273.64" r="0.32" fill="#999" fill-opacity="0.6"/>
<circle cx="293.66" cy="277.23" r="0.32" fill="#999" fill-opacity="0.6"/>
<circle cx="273" cy="255.09" r="0.32" fill="#999" fill-opacity="0.6"/>
<circle cx="285.49" cy="261.4" r="0.32" fill="#999" fill-opacity="0.6"/>
<circle cx="272.76" cy="281.75" r="0.32" fill="#999" fill-opacity="0.6"/>
<circle cx="292.09" cy="272.92" r="0.32" fill="#999" fill-opacity="0.6"/>
<circle cx="284.53" cy="276.96" r="0.32" fill="#999" fill-opacity="0.6"/>
<circle cx="294.26" cy="277.35" r="0.32" fill="#999" fill-opacity="0.6"/>
<circle cx="287.13" cy="278.23" r="0.32" fill="#999" fill-opacity="0.6"/>
<circle cx="271.16" cy="282.82" r="0.32" fill="#999" fill-opacity="0.6"/>
<circle cx="290.79" cy="277.5" r="0.32" fill="#999" fill-opacity="0.6"/>
<circle cx="268.58" cy="265.26" r="0.32" fill="#999" fill-opacity="0.6"/>
<circle cx="287.88" cy="254.14" r="0.32" fill="#999" fill-opacity="0.6"/>
<circle cx="280.28" cy="283.68" r="0.32" fill="#999" fill-opacity="0.6"/>
<circle cx="273.09" cy="285.58" r="0.32" fill="#999" fill-opacity="0.6"/>
<circle cx="287.62" cy="268.96" r="0.32" fill="#999" fill-opacity="0.6"/>
<circle cx="285.23" cy="279.62" r="0.32" fill="#999" fill-opacity="0.6"/>
<circle cx="283.09" cy="284.85" r="0.32" fill="#999" fill-opacity="0.6"/>
<circle cx="275.49" cy="265.56" r="0.32" fill="#999" fill-opacity="0.6"/>
<circle cx="291.71" cy="271.33" r="0.32" fill="#999" fill-opacity="0.6"/>
<circle cx="274.31" cy="282.02" r="0.32" fill="#999" fill-opacity="0.6"/>
<circle cx="293.93" cy="266.17" r="0.32" fill="#999" fill-opacity="0.6"/>
<circle cx="270.27" cy="269.47" r="0.32" fill="#999" fill-opacity="0.6"/>
<circle cx="280.44" cy="266.84" r="0.32" fill="#999" fill-opacity="0.6"/>
<circle cx="292.69" cy="260.57" r="0.32" fill="#999" fill-opacity="0.6"/>
<circle cx="291.44" cy="258.33" r="0.32" fill="#999" fill-opacity="0.6"/>
<circle cx="274.61" cy="278.91" r="0.32" fill="#999" fill-opacity="0.6"/>
<circle cx="291.51" cy="280.65" r="0.32" fill="#999" fill-opacity="0.6"/>
<circle cx="285.6" cy="272.98" r="0.32" fill="#999" fill-opacity="0.6"/>
<circle cx="283.55" cy="278.79" r="0.32" fill="#999" fill-opacity="0.6"/>
<circle cx="280.16" cy="274.87" r="0.32" fill="#999" fill-opacity="0.6"/>
<circle cx="287.83" cy="271.01" r="0.32" fill="#999" fill-opacity="0.6"/>
<circle cx="289.27" cy="278.18" r="0.32" fill="#999" fill-opacity="0.6"/>
<circle cx="295.85" cy="273.98" r="0.32" fill="#999" fill-opacity="0.6"/>
<circle cx="277.64" cy="265.94" r="0.32" fill="#999" fill-opacity="0.6"/>
<circle cx="281.88" cy="282.79" r="0.32" fill="#999" fill-opacity="0.6"/>
<circle cx="278.54" cy="276.28" r="0.32" fill="#999" fill-opacity="0.6"/>
<circle cx="290.7" cy="254.8" r="0.32" fill="#999" fill-opacity="0.6"/>
<circle cx="271.8" cy="273.95" r="0.32" fill="#999" fill-opacity="0.6"/>
<circle cx="286.11" cy="274.28" r="0.32" fill="#999" fill-opacity="0.6"/>
<circle cx="277.76" cy="279.6" r="0.32" fill="#999" fill-opacity="0.6"/>
<circle cx="284.86" cy="263.93" r="0.32" fill="#999" fill-opacity="0.6"/>
<circle cx="296.47" cy="273.82" r="0.32" fill="#999" fill-opacity="0.6"/>
<circle cx="276.35" cy="269.65" r="0.32" fill="#999" fill-opacity="0.6"/>
<circle cx="279.62" cy="270.12" r="0.32" fill="#999" fill-opacity="0.6"/>
<circle cx="267.39" cy="267.53" r="0.32" fill="#999" fill-opacity="0.6"/>
<circle cx="290.18" cy="258.37" r="0.32" fill="#999" fill-opacity="0.6"/>
<circle cx="281.37" cy="283.08" r="0.32" fill="#999" fill-opacity="0.6"/>
<circle cx="288.56" cy="286.24" r="0.32" fill="#999" fill-opacity="0.6"/>
<circle cx="269.04" cy="267.41" r="0.32" fill="#999" fill-opacity="0.6"/>
<circle cx="278.6" cy="279.29" r="0.32" fill="#999" fill-opacity="0.6"/>
<circle cx="287.61" cy="252.61" r="0.32" fill="#999" fill-opacity="0.6"/>
<circle cx="290.09" cy="256.65" r="0.32" fill="#999" fill-opacity="0.6"/>
<circle cx="287.37" cy="255.36" r="0.32" fill="#999" fill-opacity="0.6"/>
<circle cx="283.57" cy="285.24" r="0.32" fill="#999" fill-opacity="0.6"/>
<circle cx="280.43" cy="273.68" r="0.32" fill="#999" fill-opacity="0.6"/>
<circle cx="289.81" cy="272.85" r="0.32" fill="#999" fill-opacity="0.6"/>
<circle cx="281.28" cy="287.62" r="0.32" fill="#999" fill-opacity="0.6"/>
<circle cx="291.66" cy="267.39" r="0.32" fill="#999" fill-opacity="0.6"/>
<circle cx="295.76" cy="263.33" r="0.32" fill="#999" fill-opacity="0.6"/>
<circle cx="290.7" cy="267.63" r="0.32" fill="#999" fill-opacity="0.6"/>
<circle cx="283.32" cy="280.36" r="0.32" fill="#999" fill-opacity="0.6"/>
<circle cx="284.23" cy="279.54" r="0.32" fill="#999" fill-opacity="0.6"/>
<circle cx="271.88" cy="257.66" r="0.32" fill="#999" fill-opacity="0.6"/>
<circle cx="287.59" cy="259.33" r="0.32" fill="#999" fill-opacity="0.6"/>
<circle cx="274.32" cy="256.34" r="0.32" fill="#999" fill-opacity="0.6"/>
<circle cx="292.5" cy="279.25" r="0.32" fill="#999" fill-opacity="0.6"/>
<circle cx="293.19" cy="261.5" r="0.32" fill="#999" fill-opacity="0.6"/>
<circle cx="282.01" cy="257.17" r="0.32" fill="#999" fill-opacity="0.6"/>
<circle cx="287.79" cy="287" r="0.32" fill="#999" fill-opacity="0.6"/>
<circle cx="275.35" cy="286.55" r="0.32" fill="#999" fill-opacity="0.6"/>
<circle cx="291.29" cy="268.77" r="0.32" fill="#999" fill-opacity="0.6"/>
<circle cx="270.12" cy="282.3" r="0.32" fill="#999" fill-opacity="0.6"/>
<circle cx="281.02" cy="262.86" r="0.32" fill="#999" fill-opacity="0.6"/>
<circle cx="286.07" cy="276.57" r="0.32" fill="#999" fill-opacity="0.6"/>
<circle cx="293.13" cy="260.89" r="0.32" fill="#999" fill-opacity="0.6"/>
<circle cx="290.28" cy="285.45" r="0.32" fill="#999" fill-opacity="0.6"/>
<circle cx="294.07" cy="269" r="0.32" fill="#999" fill-opacity="0.6"/>
<circle cx="275.45" cy="282.96" r="0.32" fill="#999" fill-opacity="0.6"/>
<circle cx="283.22" cy="272.75" r="0.32" fill="#999" fill-opacity="0.6"/>
<circle cx="293.89" cy="268.07" r="0.32" fill="#999" fill-opacity="0.6"/>
<circle cx="267.71" cy="267.79" r="0.32" fill="#999" fill-opacity="0.6"/>
<circle cx="269.19" cy="278.55" r="0.32" fill="#999" fill-opacity="0.6"/>
<circle cx="285.17" cy="262.84" r="0.32" fill="#999" fill-opacity="0.6"/>
<circle cx="281.91" cy="281.82" r="0.32" fill="#999" fill-opacity="0.6"/>
<circle cx="282.68" cy="286.29" r="0.32" fill="#999" fill-opacity="0.6"/>
<circle cx="281.43" cy="283.92" r="0.32" fill="#999" fill-opacity="0.6"/>
<circle cx="291.73" cy="285" r="0.32" fill="#999" fill-opacity="0.6"/>
<circle cx="275.84" cy="281.76" r="0.32" fill="#999" fill-opacity="0.6"/>
<circle cx="269.65" cy="261.49" r="0.32" fill="#999" fill-opacity="0.6"/>
<circle cx="269.38" cy="280.17" r="0.32" fill="#999" fill-opacity="0.6"/>
<circle cx="271.06" cy="270.85" r="0.32" fill="#999" fill-opacity="0.6"/>
<circle cx="279.97" cy="270.6" r="0.32" fill="#999" fill-opacity="0.6"/>
<circle cx="276.03" cy="274.14" r="0.32" fill="#999" fill-opacity="0.6"/>
<circle cx="295.41" cy="271.44" r="0.32" fill="#999" fill-opacity="0.6"/>
<circle cx="286.84" cy="283.16" r="0.32" fill="#999" fill-opacity="0.6"/>
<circle cx="280.26" cy="256.26" r="0.32" fill="#999" fill-opacity="0.6"/>
<circle cx="277.04" cy="283.79" r="0.32" fill="#999" fill-opacity="0.6"/>
<circle cx="269.51" cy="264.96" r="0.32" fill="#999" fill-opacity="0.6"/>
<circle cx="290.82" cy="280.26" r="0.32" fill="#999" fill-opacity="0.6"/>
<circle cx="282.08" cy="281.52" r="0.32" fill="#999" fill-opacity="0.6"/>
<circle cx="283.49" cy="256.89" r="0.32" fill="#999" fill-opacity="0.6"/>
<circle cx="269.89" cy="264.41" r="0.32" fill="#999" fill-opacity="0.6"/>
<circle cx="290.51" cy="264.04" r="0.32" fill="#999" fill-opacity="0.6"/>
<circle cx="273.89" cy="261.76" r="0.32" fill="#999" fill-opacity="0.6"/>
<circle cx="269.55" cy="269.73" r="0.32" fill="#999" fill-opacity="0.6"/>
<circle cx="271.53" cy="275.31" r="0.32" fill="#999" fill-opacity="0.6"/>
<circle cx="267.58" cy="273.67" r="0.32" fill="#999" fill-opacity="0.6"/>
<circle cx="277.59" cy="253.22" r="0.32" fill="#999" fill-opacity="0.6"/>
<circle cx="289.14" cy="267.38" r="0.32" fill="#999" fill-opacity="0.6"/>
<circle cx="268.44" cy="263.91" r="0.32" fill="#999" fill-opacity="0.6"/>
<circle cx="284.98" cy="264.75" r="0.32" fill="#999" fill-opacity="0.6"/>
<circle cx="289.2" cy="280.2" r="0.32" fill="#999" fill-opacity="0.6"/>
<circle cx="288.61" cy="275.32" r="0.32" fill="#999" fill-opacity="0.6"/>
<circle cx="293" cy="278.26" r="0.32" fill="#999" fill-opacity="0.6"/>
<circle cx="285" cy="252.49" r="0.32" fill="#999" fill-opacity="0.6"/>
<circle cx="289.17" cy="284.96" r="0.32" fill="#999" fill-opacity="0.6"/>
<circle cx="278.97" cy="264.61" r="0.32" fill="#999" fill-opacity="0.6"/>
<circle cx="292.93" cy="257.79" r="0.32" fill="#999" fill-opacity="0.6"/>
<circle cx="284.78" cy="290.16" r="0.32" fill="#999" fill-opacity="0.6"/>
<circle cx="273.6" cy="279.33" r="0.32" fill="#999" fill-opacity="0.6"/>
<circle cx="295.66" cy="269.84" r="0.32" fill="#999" fill-opacity="0.6"/>
<circle cx="287.2" cy="282.16" r="0.32" fill="#999" fill-opacity="0.6"/>
<circle cx="273.31" cy="269.86" r="0.32" fill="#999" fill-opacity="0.6"/>
<circle cx="284.83" cy="281.64" r="0.32" fill="#999" fill-opacity="0.6"/>
<circle cx="281.64" cy="268.25" r="0.32" fill="#999" fill-opacity="0.6"/>
<circle cx="272.61" cy="266.58" r="0.32" fill="#999" fill-opacity="0.6"/>
<circle cx="290.58" cy="272.31" r="0.32" fill="#999" fill-opacity="0.6"/>
<circle cx="274.36" cy="260.95" r="0.32" fill="#999" fill-opacity="0.6"/>
<circle cx="295.69" cy="278.8" r="0.32" fill="#999" fill-opacity="0.6"/>
<circle cx="285.53" cy="251.85" r="0.32" fill="#999" fill-opacity="0.6"/>
<circle cx="288.11" cy="277.31" r="0.32" fill="#999" fill-opacity="0.6"/>
<circle cx="294.83" cy="275.35" r="0.32" fill="#999" fill-opacity="0.6"/>
<circle cx="281.31" cy="278.14" r="0.32" fill="#999" fill-opacity="0.6"/>
<circle cx="269.36" cy="279.96" r="0.32" fill="#999" fill-opacity="0.6"/>
<circle cx="285.2" cy="261.77" r="0.32" fill="#999" fill-opacity="0.6"/>
<circle cx="290.5" cy="286.47" r="0.32" fill="#999" fill-opacity="0.6"/>
<circle cx="270.66" cy="263.82" r="0.32" fill="#999" fill-opacity="0.6"/>
<circle cx="285.04" cy="273.56" r="0.32" fill="#999" fill-opacity="0.6"/>
<circle cx="278.3" cy="258.93" r="0.32" fill="#999" fill-opacity="0.6"/>
<circle cx="295.05" cy="279.51" r="0.32" fill="#999" fill-opacity="0.6"/>
<circle cx="273.08" cy="257.61" r="0.32" fill="#999" fill-opacity="0.6"/>
<circle cx="294" cy="280.29" r="0.32" fill="#999" fill-opacity="0.6"/>
<circle cx="294.73" cy="278.55" r="0.32" fill="#999" fill-opacity="0.6"/>
<circle cx="273.63" cy="274.34" r="0.32" fill="#999" fill-opacity="0.6"/>
<circle cx="268.36" cy="264.7" r="0.32" fill="#999" fill-opacity="0.6"/>
<circle cx="281.4" cy="278.14" r="0.32" fill="#999" fill-opacity="0.6"/>
<circle cx="274.78" cy="269.36" r="0.32" fill="#999" fill-opacity="0.6"/>
<circle cx="286.66" cy="276.1" r="0.32" fill="#999" fill-opacity="0.6"/>
<circle cx="288.4" cy="273.8" r="0.32" fill="#999" fill-opacity="0.6"/>
<circle cx="278.85" cy="281.22" r="0.32" fill="#999" fill-opacity="0.6"/>
<circle cx="282.48" cy="260.25" r="0.32" fill="#999" fill-opacity="0.6"/>
<circle cx="275.67" cy="271" r="0.32" fill="#999" fill-opacity="0.6"/>
<circle cx="280.84" cy="273.21" r="0.32" fill="#999" fill-opacity="0.6"/>
<circle cx="281.99" cy="273.48" r="0.32" fill="#999" fill-opacity="0.6"/>
<circle cx="280.82" cy="256.24" r="0.32" fill="#999" fill-opacity="0.6"/>
<circle cx="285.84" cy="283.8" r="0.32" fill="#999" fill-opacity="0.6"/>
<circle cx="286.48" cy="268.4" r="0.32" fill="#999" fill-opacity="0.6"/>
<circle cx="286.14" cy="259.06" r="0.32" fill="#999" fill-opacity="0.6"/>
<circle cx="268.3" cy="271.58" r="0.32" fill="#999" fill-opacity="0.6"/>
<circle cx="273.64" cy="279.86" r="0.32" fill="#999" fill-opacity="0.6"/>
<circle cx="276.33" cy="252.67" r="0.32" fill="#999" fill-opacity="0.6"/>
<circle cx="274.47" cy="286.24" r="0.32" fill="#999" fill-opacity="0.6"/>
<circle cx="278.79" cy="255.64" r="0.32" fill="#999" fill-opacity="0.6"/>
<circle cx="274.7" cy="277.65" r="0.32" fill="#999" fill-opacity="0.6"/>
<circle cx="287.09" cy="273.41" r="0.32" fill="#999" fill-opacity="0.6"/>
<circle cx="293.66" cy="278.4" r="0.32" fill="#999" fill-opacity="0.6"/>
<circle cx="281.79" cy="279.08" r="0.32" fill="#999" fill-opacity="0.6"/>
<circle cx="293.86" cy="280.29" r="0.32" fill="#999" fill-opacity="0.6"/>
<circle cx="290.44" cy="259.1" r="0.32" fill="#999" fill-opacity="0.6"/>
<circle cx="280.53" cy="280.65" r="0.32" fill="#999" fill-opacity="0.6"/>
<circle cx="279.28" cy="284.06" r="0.32" fill="#999" fill-opacity="0.6"/>
<circle cx="287.5" cy="282.16" r="0.32" fill="#999" fill-opacity="0.6"/>
<circle cx="280.78" cy="290.55" r="0.32" fill="#999" fill-opacity="0.6"/>
<circle cx="292.93" cy="268.47" r="0.32" fill="#999" fill-opacity="0.6"/>
<circle cx="282.51" cy="290.64" r="0.32" fill="#999" fill-opacity="0.6"/>
<circle cx="278.73" cy="282.12" r="0.32" fill="#999" fill-opacity="0.6"/>
<circle cx="291.27" cy="271.08" r="0.32" fill="#999" fill-opacity="0.6"/>
<circle cx="271.5" cy="273.25" r="0.32" fill="#999" fill-opacity="0.6"/>
<circle cx="285.23" cy="284.54" r="0.32" fill="#999" fill-opacity="0.6"/>
<circle cx="289.71" cy="271.32" r="0.32" fill="#999" fill-opacity="0.6"/>
<circle cx="290.01" cy="277.76" r="0.32" fill="#999" fill-opacity="0.6"/>
<circle cx="284.17" cy="271.78" r="0.32" fill="#999" fill-opacity="0.6"/>
<circle cx="279.58" cy="280.1" r="0.32" fill="#999" fill-opacity="0.6"/>
<circle cx="272.63" cy="263.55" r="0.32" fill="#999" fill-opacity="0.6"/>
<circle cx="282.04" cy="254.78" r="0.32" fill="#999" fill-opacity="0.6"/>
<circle cx="279.02" cy="252.67" r="0.32" fill="#999" fill-opacity="0.6"/>
<circle cx="275.42" cy="278.31" r="0.32" fill="#999" fill-opacity="0.6"/>
<circle cx="287.77" cy="270.26" r="0.32" fill="#999" fill-opacity="0.6"/>
<circle cx="280.05" cy="255.17" r="0.32" fill="#999" fill-opacity="0.6"/>
<circle cx="295.19" cy="275.97" r="0.32" fill="#999" fill-opacity="0.6"/>
<circle cx="291.24" cy="261.05" r="0.32" fill="#999" fill-opacity="0.6"/>
<circle cx="280.63" cy="253.07" r="0.32" fill="#999" fill-opacity="0.6"/>
<circle cx="288.96" cy="282.11" r="0.32" fill="#999" fill-opacity="0.6"/>
<circle cx="268.3" cy="270.5" r="0.32" fill="#999" fill-opacity="0.6"/>
<circle cx="286.59" cy="253.88" r="0.32" fill="#999" fill-opacity="0.6"/>
<circle cx="269.76" cy="261.48" r="0.32" fill="#999" fill-opacity="0.6"/>
<circle cx="276.89" cy="255.81" r="0.32" fill="#999" fill-opacity="0.6"/>
<circle cx="282.33" cy="274.5" r="0.32" fill="#999" fill-opacity="0.6"/>
<circle cx="288.04" cy="279.91" r="0.32" fill="#999" fill-opacity="0.6"/>
<circle cx="292.84" cy="282.2" r="0.32" fill="#999" fill-opacity="0.6"/>
<circle cx="270.91" cy="265.3" r="0.32" fill="#999" fill-opacity="0.6"/>
<circle cx="273.32" cy="259.24" r="0.32" fill="#999" fill-opacity="0.6"/>
<circle cx="281.14" cy="271.08" r="0.32" fill="#999" fill-opacity="0.6"/>
<circle cx="285.83" cy="254.47" r="0.32" fill="#999" fill-opacity="0.6"/>
<circle cx="271.03" cy="270.73" r="0.32" fill="#999" fill-opacity="0.6"/>
<circle cx="279.92" cy="266.67" r="0.32" fill="#999" fill-opacity="0.6"/>
<circle cx="281.37" cy="260.99" r="0.32" fill="#999" fill-opacity="0.6"/>
<circle cx="288.9" cy="275.65" r="0.32" fill="#999" fill-opacity="0.6"/>
<circle cx="281.12" cy="262.02" r="0.32" fill="#999" fill-opacity="0.6"/>
<circle cx="281.05" cy="251.28" r="0.32" fill="#999" fill-opacity="0.6"/>
<circle cx="272.73" cy="271.47" r="0.32" fill="#999" fill-opacity="0.6"/>
<circle cx="269.7" cy="273.18" r="0.32" fill="#999" fill-opacity="0.6"/>
<circle cx="283.25" cy="255.38" r="0.32" fill="#999" fill-opacity="0.6"/>
<circle cx="279.39" cy="266.65" r="0.32" fill="#999" fill-opacity="0.6"/>
<circle cx="286.54" cy="279.06" r="0.32" fill="#999" fill-opacity="0.6"/>
<circle cx="281.65" cy="259.98" r="0.32" fill="#999" fill-opacity="0.6"/>
<circle cx="280.47" cy="270.08" r="0.32" fill="#999" fill-opacity="0.6"/>
<circle cx="289.22" cy="274.86" r="0.32" fill="#999" fill-opacity="0.6"/>
<circle cx="276.12" cy="256.32" r="0.32" fill="#999" fill-opacity="0.6"/>
<circle cx="278.36" cy="261.37" r="0.32" fill="#999" fill-opacity="0.6"/>
<circle cx="271.83" cy="269.59" r="0.32" fill="#999" fill-opacity="0.6"/>
<circle cx="276.95" cy="272.45" r="0.32" fill="#999" fill-opacity="0.6"/>
<circle cx="287.26" cy="265.47" r="0.32" fill="#999" fill-opacity="0.6"/>
<circle cx="296.38" cy="268.35" r="0.32" fill="#999" fill-opacity="0.6"/>
<circle cx="292.1" cy="272.49" r="0.32" fill="#999" fill-opacity="0.6"/>
<circle cx="288.27" cy="253.19" r="0.32" fill="#999" fill-opacity="0.6"/>
<circle cx="274.61" cy="274.24" r="0.32" fill="#999" fill-opacity="0.6"/>
<circle cx="285.64" cy="289.83" r="0.32" fill="#999" fill-opacity="0.6"/>
<circle cx="284.8" cy="285.79" r="0.32" fill="#999" fill-opacity="0.6"/>
<circle cx="288.83" cy="282.26" r="0.32" fill="#999" fill-opacity="0.6"/>
<circle cx="287.22" cy="268.87" r="0.32" fill="#999" fill-opacity="0.6"/>
<circle cx="286.57" cy="258.1" r="0.32" fill="#999" fill-opacity="0.6"/>
<circle cx="291.53" cy="260.05" r="0.32" fill="#999" fill-opacity="0.6"/>
<circle cx="283.66" cy="289.82" r="0.32" fill="#999" fill-opacity="0.6"/>
<circle cx="279.65" cy="271.27" r="0.32" fill="#999" fill-opacity="0.6"/>
<circle cx="292.52" cy="271.32" r="0.32" fill="#999" fill-opacity="0.6"/>
<circle cx="274.15" cy="274.35" r="0.32" fill="#999" fill-opacity="0.6"/>
<circle cx="287.58" cy="280.07" r="0.32" fill="#999" fill-opacity="0.6"/>
<circle cx="276.45" cy="287.78" r="0.32" fill="#999" fill-opacity="0.6"/>
<circle cx="295" cy="271.19" r="0.32" fill="#999" fill-opacity="0.6"/>
<circle cx="284.76" cy="265.13" r="0.32" fill="#999" fill-opacity="0.6"/>
<circle cx="293.33" cy="263.46" r="0.32" fill="#999" fill-opacity="0.6"/>
<circle cx="288.58" cy="264.76" r="0.32" fill="#999" fill-opacity="0.6"/>
<circle cx="275.47" cy="280.02" r="0.32" fill="#999" fill-opacity="0.6"/>
<circle cx="293.51" cy="270.88" r="0.32" fill="#999" fill-opacity="0.6"/>
<circle cx="275.71" cy="281.05" r="0.32" fill="#999" fill-opacity="0.6"/>
<circle cx="281.48" cy="275.34" r="0.32" fill="#999" fill-opacity="0.6"/>
<circle cx="293" cy="281.9" r="0.32" fill="#999" fill-opacity="0.6"/>
<circle cx="278.78" cy="289.86" r="0.32" fill="#999" fill-opacity="0.6"/>
<circle cx="282.03" cy="281.31" r="0.32" fill="#999" fill-opacity="0.6"/>
<circle cx="275.48" cy="270.4" r="0.32" fill="#999" fill-opacity="0.6"/>
<circle cx="271.74" cy="284.97" r="0.32" fill="#999" fill-opacity="0.6"/>
<circle cx="292.1" cy="259.02" r="0.32" fill="#999" fill-opacity="0.6"/>
<circle cx="272.24" cy="256.99" r="0.32" fill="#999" fill-opacity="0.6"/>
<circle cx="292.35" cy="265.6" r="0.32" fill="#999" fill-opacity="0.6"/>
<circle cx="281.37" cy="266.63" r="0.32" fill="#999" fill-opacity="0.6"/>
<circle cx="280.88" cy="257.65" r="0.32" fill="#999" fill-opacity="0.6"/>
<circle cx="282.2" cy="254.95" r="0.32" fill="#999" fill-opacity="0.6"/>
<circle cx="281.25" cy="275.31" r="0.32" fill="#999" fill-opacity="0.6"/>
<circle cx="286.8" cy="267.83" r="0.32" fill="#999" fill-opacity="0.6"/>
<circle cx="273.34" cy="273.04" r="0.32" fill="#999" fill-opacity="0.6"/>
<circle cx="278.19" cy="287.42" r="0.32" fill="#999" fill-opacity="0.6"/>
<circle cx="289.57" cy="269.48" r="0.32" fill="#999" fill-opacity="0.6"/>
<circle cx="277.42" cy="261.89" r="0.32" fill="#999" fill-opacity="0.6"/>
<circle cx="273.18" cy="266.57" r="0.32" fill="#999" fill-opacity="0.6"/>
<ellipse cx="284" cy="279.4" rx="7.2" ry="9.2" transform="rotate(-5 284 279.4)" fill="#e8e8e8" stroke="#8a8a8a" stroke-width="0.55" opacity="1"/>
<ellipse cx="284.4" cy="279" rx="5.2" ry="7.2" transform="rotate(-5 284.4 279)" fill="#d8d8d8" stroke="#6e6e6e" stroke-width="0.55" opacity="1"/>
<ellipse cx="284.8" cy="278.6" rx="3.2" ry="4.8" transform="rotate(-5 284.8 278.6)" fill="#c8c8c8" stroke="#666" stroke-width="0.5" opacity="1"/>
<ellipse cx="285" cy="278.4" rx="1.4" ry="2.3" transform="rotate(-5 285 278.4)" fill="#b4b4b4" stroke="#666" stroke-width="0.45" opacity="1"/>
<ellipse cx="279.2" cy="263.4" rx="10.2" ry="4.4" transform="rotate(-33 279.2 263.4)" fill="#eaeaea" stroke="#8e8e8e" stroke-width="0.55" opacity="1"/>
<ellipse cx="278.8" cy="263.8" rx="7.4" ry="2.9" transform="rotate(-33 278.8 263.8)" fill="#d6d6d6" stroke="#707070" stroke-width="0.55" opacity="1"/>
<ellipse cx="278.4" cy="264.2" rx="4.4" ry="1.5" transform="rotate(-33 278.4 264.2)" fill="#c2c2c2" stroke="#666" stroke-width="0.5" opacity="1"/>
<path d="M269.4,251.9 L282.5,243.5 L300.0,243.1 L301.9,247.5 L297.5,253.8 L290.0,262.0 L278.8,270.6 L270.0,270.0 L268.8,260.0 Z" stroke="#6a6a6a" fill="none" stroke-width="0.5" />
<line x1="297.5" y1="253.8" x2="340.5" y2="253.8" stroke="#222" stroke-width="0.9" />
<path d="M343.2,253.8 L339.6,252.1 L339.6,255.5 Z" stroke="none" fill="#222" stroke-width="1" />
<rect x="343.1" y="240.3" width="54.5" height="53.7" fill="none" stroke="#1a1a1a" stroke-width="1" />
<line x1="341.7" y1="247.2" x2="343.1" y2="247.2" stroke="#333" stroke-width="0.45" />
<line x1="341.7" y1="245.56" x2="343.1" y2="245.56" stroke="#333" stroke-width="0.45" />
<line x1="341.7" y1="244.4" x2="343.1" y2="244.4" stroke="#333" stroke-width="0.45" />
<line x1="341.7" y1="243.5" x2="343.1" y2="243.5" stroke="#333" stroke-width="0.45" />
<line x1="341.7" y1="242.76" x2="343.1" y2="242.76" stroke="#333" stroke-width="0.45" />
<line x1="341.7" y1="242.14" x2="343.1" y2="242.14" stroke="#333" stroke-width="0.45" />
<line x1="341.7" y1="241.6" x2="343.1" y2="241.6" stroke="#333" stroke-width="0.45" />
<line x1="341.7" y1="241.13" x2="343.1" y2="241.13" stroke="#333" stroke-width="0.45" />
<line x1="341.7" y1="256.99" x2="343.1" y2="256.99" stroke="#333" stroke-width="0.45" />
<line x1="341.7" y1="255.23" x2="343.1" y2="255.23" stroke="#333" stroke-width="0.45" />
<line x1="341.7" y1="253.98" x2="343.1" y2="253.98" stroke="#333" stroke-width="0.45" />
<line x1="341.7" y1="253.01" x2="343.1" y2="253.01" stroke="#333" stroke-width="0.45" />
<line x1="341.7" y1="252.22" x2="343.1" y2="252.22" stroke="#333" stroke-width="0.45" />
<line x1="341.7" y1="251.55" x2="343.1" y2="251.55" stroke="#333" stroke-width="0.45" />
<line x1="341.7" y1="250.97" x2="343.1" y2="250.97" stroke="#333" stroke-width="0.45" />
<line x1="341.7" y1="250.46" x2="343.1" y2="250.46" stroke="#333" stroke-width="0.45" />
<line x1="341.7" y1="269.44" x2="343.1" y2="269.44" stroke="#333" stroke-width="0.45" />
<line x1="341.7" y1="267.06" x2="343.1" y2="267.06" stroke="#333" stroke-width="0.45" />
<line x1="341.7" y1="265.37" x2="343.1" y2="265.37" stroke="#333" stroke-width="0.45" />
<line x1="341.7" y1="264.06" x2="343.1" y2="264.06" stroke="#333" stroke-width="0.45" />
<line x1="341.7" y1="262.99" x2="343.1" y2="262.99" stroke="#333" stroke-width="0.45" />
<line x1="341.7" y1="262.09" x2="343.1" y2="262.09" stroke="#333" stroke-width="0.45" />
<line x1="341.7" y1="261.31" x2="343.1" y2="261.31" stroke="#333" stroke-width="0.45" />
<line x1="341.7" y1="260.62" x2="343.1" y2="260.62" stroke="#333" stroke-width="0.45" />
<line x1="341.1" y1="240.7" x2="343.1" y2="240.7" stroke="#222" stroke-width="0.6" />
<line x1="341.1" y1="250" x2="343.1" y2="250" stroke="#222" stroke-width="0.6" />
<line x1="341.1" y1="260" x2="343.1" y2="260" stroke="#222" stroke-width="0.6" />
<line x1="341.1" y1="273.5" x2="343.1" y2="273.5" stroke="#222" stroke-width="0.6" />
<line x1="341.7" y1="276.7" x2="343.1" y2="276.7" stroke="#333" stroke-width="0.45" />
<line x1="341.7" y1="277.6" x2="343.1" y2="277.6" stroke="#333" stroke-width="0.45" />
<line x1="341.7" y1="278.5" x2="343.1" y2="278.5" stroke="#333" stroke-width="0.45" />
<line x1="341.7" y1="279.4" x2="343.1" y2="279.4" stroke="#333" stroke-width="0.45" />
<line x1="341.7" y1="280.3" x2="343.1" y2="280.3" stroke="#333" stroke-width="0.45" />
<line x1="341.7" y1="281.2" x2="343.1" y2="281.2" stroke="#333" stroke-width="0.45" />
<line x1="341.7" y1="282.1" x2="343.1" y2="282.1" stroke="#333" stroke-width="0.45" />
<line x1="373.02" y1="294" x2="373.02" y2="295.4" stroke="#333" stroke-width="0.45" />
<line x1="375.66" y1="294" x2="375.66" y2="295.4" stroke="#333" stroke-width="0.45" />
<line x1="377.53" y1="294" x2="377.53" y2="295.4" stroke="#333" stroke-width="0.45" />
<line x1="378.98" y1="294" x2="378.98" y2="295.4" stroke="#333" stroke-width="0.45" />
<line x1="380.17" y1="294" x2="380.17" y2="295.4" stroke="#333" stroke-width="0.45" />
<line x1="381.18" y1="294" x2="381.18" y2="295.4" stroke="#333" stroke-width="0.45" />
<line x1="382.05" y1="294" x2="382.05" y2="295.4" stroke="#333" stroke-width="0.45" />
<line x1="382.81" y1="294" x2="382.81" y2="295.4" stroke="#333" stroke-width="0.45" />
<line x1="387.11" y1="294" x2="387.11" y2="295.4" stroke="#333" stroke-width="0.45" />
<line x1="389.23" y1="294" x2="389.23" y2="295.4" stroke="#333" stroke-width="0.45" />
<line x1="390.72" y1="294" x2="390.72" y2="295.4" stroke="#333" stroke-width="0.45" />
<line x1="391.89" y1="294" x2="391.89" y2="295.4" stroke="#333" stroke-width="0.45" />
<line x1="392.84" y1="294" x2="392.84" y2="295.4" stroke="#333" stroke-width="0.45" />
<line x1="393.64" y1="294" x2="393.64" y2="295.4" stroke="#333" stroke-width="0.45" />
<line x1="394.34" y1="294" x2="394.34" y2="295.4" stroke="#333" stroke-width="0.45" />
<line x1="394.95" y1="294" x2="394.95" y2="295.4" stroke="#333" stroke-width="0.45" />
<line x1="368.5" y1="294" x2="368.5" y2="296" stroke="#222" stroke-width="0.6" />
<line x1="383.5" y1="294" x2="383.5" y2="296" stroke="#222" stroke-width="0.6" />
<line x1="395.5" y1="294" x2="395.5" y2="296" stroke="#222" stroke-width="0.6" />
<line x1="357.5" y1="294" x2="357.5" y2="295.4" stroke="#333" stroke-width="0.45" />
<line x1="358.4" y1="294" x2="358.4" y2="295.4" stroke="#333" stroke-width="0.45" />
<line x1="359.3" y1="294" x2="359.3" y2="295.4" stroke="#333" stroke-width="0.45" />
<line x1="360.2" y1="294" x2="360.2" y2="295.4" stroke="#333" stroke-width="0.45" />
<line x1="361.1" y1="294" x2="361.1" y2="295.4" stroke="#333" stroke-width="0.45" />
<line x1="362" y1="294" x2="362" y2="295.4" stroke="#333" stroke-width="0.45" />
<line x1="362.9" y1="294" x2="362.9" y2="295.4" stroke="#333" stroke-width="0.45" />
<line x1="363.8" y1="294" x2="363.8" y2="295.4" stroke="#333" stroke-width="0.45" />
<line x1="341.5" y1="240.7" x2="343.1" y2="240.7" stroke="#231f20" stroke-width="0.8" />
<line x1="341.5" y1="250" x2="343.1" y2="250" stroke="#231f20" stroke-width="0.8" />
<line x1="341.5" y1="260" x2="343.1" y2="260" stroke="#231f20" stroke-width="0.8" />
<line x1="341.5" y1="273.5" x2="343.1" y2="273.5" stroke="#231f20" stroke-width="0.8" />
<line x1="341.5" y1="279.7" x2="343.1" y2="279.7" stroke="#231f20" stroke-width="0.8" />
<line x1="341.5" y1="287.3" x2="343.1" y2="287.3" stroke="#231f20" stroke-width="0.8" />
<text stroke="#231f20" stroke-width="0.15" x="337" y="242.9" font-size="6.6" text-anchor="end" textLength="10.6" lengthAdjust="spacingAndGlyphs">10<tspan font-size="5" dy="-2.8">6</tspan></text>
<text stroke="#231f20" stroke-width="0.15" x="337" y="252.2" font-size="6.6" text-anchor="end" textLength="10.6" lengthAdjust="spacingAndGlyphs">10<tspan font-size="5" dy="-2.8">5</tspan></text>
<text stroke="#231f20" stroke-width="0.15" x="337.2" y="262.6" font-size="6.6" text-anchor="end" textLength="10.8" lengthAdjust="spacingAndGlyphs">10<tspan font-size="5" dy="-2.8">4</tspan></text>
<text stroke="#231f20" stroke-width="0.15" x="337.2" y="276" font-size="6.6" text-anchor="end" textLength="10.8" lengthAdjust="spacingAndGlyphs">10<tspan font-size="5" dy="-2.8">3</tspan></text>
<text stroke="#231f20" stroke-width="0.15" x="336.6" y="281.6" font-size="6.6" text-anchor="end" textLength="3.2" lengthAdjust="spacingAndGlyphs">0</text>
<text stroke="#231f20" stroke-width="0.15" x="337" y="289.5" font-size="6.6" text-anchor="end" textLength="15" lengthAdjust="spacingAndGlyphs">−10<tspan font-size="5" dy="-2.8">3</tspan></text>
<text stroke="#231f20" stroke-width="0.05" transform="translate(313.1,268) rotate(-90)" x="0" y="0" font-size="9.4" text-anchor="middle" font-weight="bold" textLength="14.1" lengthAdjust="spacingAndGlyphs">CD34</text>
<text stroke="#231f20" stroke-width="0.05" x="370.3" y="324.3" font-size="9.8" text-anchor="middle" font-weight="bold" textLength="11.4" lengthAdjust="spacingAndGlyphs">CD3</text>
<text stroke="#231f20" stroke-width="0.15" transform="translate(348,303.6) rotate(-46)" x="0" y="0" font-size="7.6" text-anchor="end" textLength="15.4" lengthAdjust="spacingAndGlyphs">−10<tspan font-size="5.4" dy="-2.8">4</tspan></text>
<text stroke="#231f20" stroke-width="0.15" transform="translate(363.8,305) rotate(-46)" x="0" y="0" font-size="7.6" text-anchor="end" textLength="4" lengthAdjust="spacingAndGlyphs">0</text>
<text stroke="#231f20" stroke-width="0.15" transform="translate(374.3,303.4) rotate(-46)" x="0" y="0" font-size="7.6" text-anchor="end" textLength="11.6" lengthAdjust="spacingAndGlyphs">10<tspan font-size="5.4" dy="-2.8">4</tspan></text>
<text stroke="#231f20" stroke-width="0.15" transform="translate(388.4,303.4) rotate(-46)" x="0" y="0" font-size="7.6" text-anchor="end" textLength="11.6" lengthAdjust="spacingAndGlyphs">10<tspan font-size="5.4" dy="-2.8">5</tspan></text>
<text stroke="#231f20" stroke-width="0.15" transform="translate(399.8,303.4) rotate(-46)" x="0" y="0" font-size="7.6" text-anchor="end" textLength="11.6" lengthAdjust="spacingAndGlyphs">10<tspan font-size="5.4" dy="-2.8">6</tspan></text>
<ellipse cx="377.5" cy="265.5" rx="10.5" ry="7" transform="rotate(-10 377.5 265.5)" fill="#f5f5f5" stroke="#d4d4d4" stroke-width="0.4" opacity="1"/>
<circle cx="379.2" cy="269.14" r="0.35" fill="#b0b0b0" fill-opacity="0.6"/>
<circle cx="379.74" cy="274.27" r="0.35" fill="#b0b0b0" fill-opacity="0.6"/>
<circle cx="371.84" cy="266.08" r="0.35" fill="#b0b0b0" fill-opacity="0.6"/>
<circle cx="386.13" cy="261.01" r="0.35" fill="#b0b0b0" fill-opacity="0.6"/>
<circle cx="373.09" cy="267.04" r="0.35" fill="#b0b0b0" fill-opacity="0.6"/>
<circle cx="378.17" cy="268.54" r="0.35" fill="#b0b0b0" fill-opacity="0.6"/>
<circle cx="375.19" cy="268.28" r="0.35" fill="#b0b0b0" fill-opacity="0.6"/>
<circle cx="377.38" cy="270.56" r="0.35" fill="#b0b0b0" fill-opacity="0.6"/>
<circle cx="367.61" cy="262.41" r="0.35" fill="#b0b0b0" fill-opacity="0.6"/>
<circle cx="376.98" cy="260.22" r="0.35" fill="#b0b0b0" fill-opacity="0.6"/>
<circle cx="370.17" cy="269.36" r="0.35" fill="#b0b0b0" fill-opacity="0.6"/>
<circle cx="372.42" cy="269.66" r="0.35" fill="#b0b0b0" fill-opacity="0.6"/>
<circle cx="382.36" cy="267.8" r="0.35" fill="#b0b0b0" fill-opacity="0.6"/>
<circle cx="380.82" cy="265.36" r="0.35" fill="#b0b0b0" fill-opacity="0.6"/>
<circle cx="368.27" cy="265.85" r="0.35" fill="#b0b0b0" fill-opacity="0.6"/>
<circle cx="380.33" cy="262.83" r="0.35" fill="#b0b0b0" fill-opacity="0.6"/>
<circle cx="376.28" cy="270.45" r="0.35" fill="#b0b0b0" fill-opacity="0.6"/>
<circle cx="371.06" cy="269.54" r="0.35" fill="#b0b0b0" fill-opacity="0.6"/>
<circle cx="386.71" cy="263.63" r="0.35" fill="#b0b0b0" fill-opacity="0.6"/>
<circle cx="378.13" cy="265.05" r="0.35" fill="#b0b0b0" fill-opacity="0.6"/>
<circle cx="386.08" cy="267.53" r="0.35" fill="#b0b0b0" fill-opacity="0.6"/>
<circle cx="383" cy="262.23" r="0.35" fill="#b0b0b0" fill-opacity="0.6"/>
<circle cx="376.87" cy="265.94" r="0.35" fill="#b0b0b0" fill-opacity="0.6"/>
<circle cx="368.78" cy="271.46" r="0.35" fill="#b0b0b0" fill-opacity="0.6"/>
<circle cx="381.65" cy="258.6" r="0.35" fill="#b0b0b0" fill-opacity="0.6"/>
<circle cx="382.4" cy="265.22" r="0.35" fill="#b0b0b0" fill-opacity="0.6"/>
<circle cx="380.35" cy="268.24" r="0.35" fill="#b0b0b0" fill-opacity="0.6"/>
<circle cx="368" cy="264.96" r="0.35" fill="#b0b0b0" fill-opacity="0.6"/>
<circle cx="385.72" cy="263.25" r="0.35" fill="#b0b0b0" fill-opacity="0.6"/>
<circle cx="371.22" cy="259.71" r="0.35" fill="#b0b0b0" fill-opacity="0.6"/>
<circle cx="369.12" cy="267.77" r="0.35" fill="#b0b0b0" fill-opacity="0.6"/>
<circle cx="386.43" cy="267.96" r="0.35" fill="#b0b0b0" fill-opacity="0.6"/>
<circle cx="378.15" cy="274.58" r="0.35" fill="#b0b0b0" fill-opacity="0.6"/>
<circle cx="373.3" cy="262.07" r="0.35" fill="#b0b0b0" fill-opacity="0.6"/>
<circle cx="380.83" cy="269.25" r="0.35" fill="#b0b0b0" fill-opacity="0.6"/>
<circle cx="370.98" cy="260.32" r="0.35" fill="#b0b0b0" fill-opacity="0.6"/>
<circle cx="379.22" cy="267.55" r="0.35" fill="#b0b0b0" fill-opacity="0.6"/>
<circle cx="368.7" cy="264.95" r="0.35" fill="#b0b0b0" fill-opacity="0.6"/>
<circle cx="373.03" cy="268.75" r="0.35" fill="#b0b0b0" fill-opacity="0.6"/>
<circle cx="376.09" cy="265.45" r="0.35" fill="#b0b0b0" fill-opacity="0.6"/>
<circle cx="374.63" cy="271.79" r="0.35" fill="#b0b0b0" fill-opacity="0.6"/>
<circle cx="385.54" cy="264.16" r="0.35" fill="#b0b0b0" fill-opacity="0.6"/>
<circle cx="382.65" cy="261.86" r="0.35" fill="#b0b0b0" fill-opacity="0.6"/>
<circle cx="377.52" cy="270.45" r="0.35" fill="#b0b0b0" fill-opacity="0.6"/>
<circle cx="385.95" cy="264.15" r="0.35" fill="#b0b0b0" fill-opacity="0.6"/>
<circle cx="376.43" cy="267.24" r="0.35" fill="#b0b0b0" fill-opacity="0.6"/>
<circle cx="367.97" cy="266.08" r="0.35" fill="#b0b0b0" fill-opacity="0.6"/>
<circle cx="372.11" cy="268.2" r="0.35" fill="#b0b0b0" fill-opacity="0.6"/>
<circle cx="371.75" cy="258.48" r="0.35" fill="#b0b0b0" fill-opacity="0.6"/>
<circle cx="377.3" cy="267.64" r="0.35" fill="#b0b0b0" fill-opacity="0.6"/>
<circle cx="373.25" cy="270.97" r="0.35" fill="#b0b0b0" fill-opacity="0.6"/>
<circle cx="374.99" cy="262.35" r="0.35" fill="#b0b0b0" fill-opacity="0.6"/>
<circle cx="379.75" cy="258.6" r="0.35" fill="#b0b0b0" fill-opacity="0.6"/>
<circle cx="372.02" cy="265.88" r="0.35" fill="#b0b0b0" fill-opacity="0.6"/>
<circle cx="383.03" cy="265.05" r="0.35" fill="#b0b0b0" fill-opacity="0.6"/>
<circle cx="379.25" cy="262.09" r="0.35" fill="#b0b0b0" fill-opacity="0.6"/>
<circle cx="378.71" cy="273.72" r="0.35" fill="#b0b0b0" fill-opacity="0.6"/>
<circle cx="374.01" cy="274.43" r="0.35" fill="#b0b0b0" fill-opacity="0.6"/>
<circle cx="372.24" cy="266.1" r="0.35" fill="#b0b0b0" fill-opacity="0.6"/>
<circle cx="378.19" cy="271.73" r="0.35" fill="#b0b0b0" fill-opacity="0.6"/>
<circle cx="371.56" cy="258.45" r="0.35" fill="#b0b0b0" fill-opacity="0.6"/>
<circle cx="381.18" cy="270.49" r="0.35" fill="#b0b0b0" fill-opacity="0.6"/>
<circle cx="379.51" cy="274.64" r="0.35" fill="#b0b0b0" fill-opacity="0.6"/>
<circle cx="378.57" cy="267.59" r="0.35" fill="#b0b0b0" fill-opacity="0.6"/>
<circle cx="383.41" cy="268.08" r="0.35" fill="#b0b0b0" fill-opacity="0.6"/>
<circle cx="385.29" cy="260.95" r="0.35" fill="#b0b0b0" fill-opacity="0.6"/>
<circle cx="375.81" cy="257.06" r="0.35" fill="#b0b0b0" fill-opacity="0.6"/>
<circle cx="382.74" cy="263.85" r="0.35" fill="#b0b0b0" fill-opacity="0.6"/>
<circle cx="381.2" cy="274" r="0.35" fill="#b0b0b0" fill-opacity="0.6"/>
<circle cx="376.95" cy="264.39" r="0.35" fill="#b0b0b0" fill-opacity="0.6"/>
<circle cx="356.79" cy="261.54" r="0.35" fill="#b8b8b8" fill-opacity="0.5"/>
<circle cx="356.17" cy="276.56" r="0.35" fill="#b8b8b8" fill-opacity="0.5"/>
<circle cx="359.18" cy="270.75" r="0.35" fill="#b8b8b8" fill-opacity="0.5"/>
<circle cx="358.23" cy="279.32" r="0.35" fill="#b8b8b8" fill-opacity="0.5"/>
<circle cx="361.37" cy="268.45" r="0.35" fill="#b8b8b8" fill-opacity="0.5"/>
<circle cx="362.11" cy="268.38" r="0.35" fill="#b8b8b8" fill-opacity="0.5"/>
<circle cx="355.06" cy="281.37" r="0.35" fill="#b8b8b8" fill-opacity="0.5"/>
<circle cx="361.01" cy="260.54" r="0.35" fill="#b8b8b8" fill-opacity="0.5"/>
<circle cx="363.59" cy="273.35" r="0.35" fill="#b8b8b8" fill-opacity="0.5"/>
<circle cx="354.32" cy="281" r="0.35" fill="#b8b8b8" fill-opacity="0.5"/>
<circle cx="360.48" cy="279.04" r="0.35" fill="#b8b8b8" fill-opacity="0.5"/>
<circle cx="359.97" cy="268.32" r="0.35" fill="#b8b8b8" fill-opacity="0.5"/>
<circle cx="353.66" cy="277.66" r="0.35" fill="#b8b8b8" fill-opacity="0.5"/>
<circle cx="359.15" cy="266.79" r="0.35" fill="#b8b8b8" fill-opacity="0.5"/>
<circle cx="360.71" cy="270.87" r="0.35" fill="#b8b8b8" fill-opacity="0.5"/>
<circle cx="362.11" cy="266.09" r="0.35" fill="#b8b8b8" fill-opacity="0.5"/>
<circle cx="358.89" cy="254.84" r="0.35" fill="#b8b8b8" fill-opacity="0.5"/>
<circle cx="357.06" cy="277.08" r="0.35" fill="#b8b8b8" fill-opacity="0.5"/>
<circle cx="364.3" cy="266.7" r="0.35" fill="#b8b8b8" fill-opacity="0.5"/>
<circle cx="358.55" cy="283.51" r="0.35" fill="#b8b8b8" fill-opacity="0.5"/>
<circle cx="357.51" cy="277.68" r="0.35" fill="#b8b8b8" fill-opacity="0.5"/>
<circle cx="365.08" cy="270.33" r="0.35" fill="#b8b8b8" fill-opacity="0.5"/>
<circle cx="363.82" cy="263.61" r="0.35" fill="#b8b8b8" fill-opacity="0.5"/>
<circle cx="360.02" cy="269.13" r="0.35" fill="#b8b8b8" fill-opacity="0.5"/>
<circle cx="359.49" cy="280.97" r="0.35" fill="#b8b8b8" fill-opacity="0.5"/>
<circle cx="365.59" cy="265.81" r="0.35" fill="#b8b8b8" fill-opacity="0.5"/>
<circle cx="356.35" cy="275.24" r="0.35" fill="#b8b8b8" fill-opacity="0.5"/>
<circle cx="354.55" cy="274.79" r="0.35" fill="#b8b8b8" fill-opacity="0.5"/>
<circle cx="361.69" cy="267.01" r="0.35" fill="#b8b8b8" fill-opacity="0.5"/>
<circle cx="360.95" cy="256.99" r="0.35" fill="#b8b8b8" fill-opacity="0.5"/>
<circle cx="361.72" cy="257.38" r="0.35" fill="#b8b8b8" fill-opacity="0.5"/>
<circle cx="355.87" cy="264.28" r="0.35" fill="#b8b8b8" fill-opacity="0.5"/>
<circle cx="357.22" cy="278.72" r="0.35" fill="#b8b8b8" fill-opacity="0.5"/>
<circle cx="359.4" cy="265.59" r="0.35" fill="#b8b8b8" fill-opacity="0.5"/>
<circle cx="360.97" cy="283.13" r="0.35" fill="#b8b8b8" fill-opacity="0.5"/>
<circle cx="359.03" cy="274.07" r="0.35" fill="#b8b8b8" fill-opacity="0.5"/>
<circle cx="364.09" cy="272.51" r="0.35" fill="#b8b8b8" fill-opacity="0.5"/>
<circle cx="355.82" cy="284.08" r="0.35" fill="#b8b8b8" fill-opacity="0.5"/>
<circle cx="364.17" cy="259.37" r="0.35" fill="#b8b8b8" fill-opacity="0.5"/>
<circle cx="358.81" cy="274.62" r="0.35" fill="#b8b8b8" fill-opacity="0.5"/>
<circle cx="363.06" cy="276.43" r="0.35" fill="#b8b8b8" fill-opacity="0.5"/>
<circle cx="357.83" cy="259.64" r="0.35" fill="#b8b8b8" fill-opacity="0.5"/>
<circle cx="359.45" cy="280.28" r="0.35" fill="#b8b8b8" fill-opacity="0.5"/>
<circle cx="354.82" cy="260.99" r="0.35" fill="#b8b8b8" fill-opacity="0.5"/>
<circle cx="358.92" cy="255.28" r="0.35" fill="#b8b8b8" fill-opacity="0.5"/>
<circle cx="357.75" cy="265.22" r="0.35" fill="#b8b8b8" fill-opacity="0.5"/>
<circle cx="361.05" cy="262.7" r="0.35" fill="#b8b8b8" fill-opacity="0.5"/>
<circle cx="355.1" cy="266.01" r="0.35" fill="#b8b8b8" fill-opacity="0.5"/>
<circle cx="358.77" cy="262.88" r="0.35" fill="#b8b8b8" fill-opacity="0.5"/>
<circle cx="359.06" cy="277.92" r="0.35" fill="#b8b8b8" fill-opacity="0.5"/>
<ellipse cx="359.8" cy="262.8" rx="3.6" ry="7" transform="rotate(4 359.8 262.8)" fill="#f0f0f0" stroke="#9a9a9a" stroke-width="0.5" opacity="1"/>
<ellipse cx="359.8" cy="262.4" rx="2.5" ry="5.2" transform="rotate(4 359.8 262.4)" fill="#e4e4e4" stroke="#888" stroke-width="0.5" opacity="1"/>
<ellipse cx="359.6" cy="262" rx="1.4" ry="3" transform="rotate(4 359.6 262)" fill="#d6d6d6" stroke="#7a7a7a" stroke-width="0.45" opacity="1"/>
<ellipse cx="359.2" cy="279.8" rx="5.6" ry="5" transform="rotate(-10 359.2 279.8)" fill="#e8e8e8" stroke="#8a8a8a" stroke-width="0.5" opacity="1"/>
<ellipse cx="359.3" cy="279.9" rx="4.2" ry="3.7" transform="rotate(-10 359.3 279.9)" fill="#d6d6d6" stroke="#666" stroke-width="0.55" opacity="1"/>
<ellipse cx="359.4" cy="280" rx="2.6" ry="2.3" transform="rotate(-10 359.4 280)" fill="#c2c2c2" stroke="#555" stroke-width="0.5" opacity="1"/>
<ellipse cx="359.5" cy="280.1" rx="1.1" ry="1" transform="rotate(-10 359.5 280.1)" fill="#aaa" stroke="#555" stroke-width="0.4" opacity="1"/>
<ellipse cx="378.4" cy="279" rx="8.8" ry="4.4" transform="rotate(-3 378.4 279)" fill="#f0f2f0" stroke="#a7b2a7" stroke-width="0.5" opacity="1"/>
<ellipse cx="378.4" cy="279.2" rx="6.6" ry="3" transform="rotate(-3 378.4 279.2)" fill="#dde2dd" stroke="#7c8a7c" stroke-width="0.5" opacity="1"/>
<ellipse cx="378.4" cy="279.3" rx="4" ry="1.3" transform="rotate(-3 378.4 279.3)" fill="#c8cec8" stroke="#627262" stroke-width="0.45" opacity="1"/>
<rect x="347.5" y="252.3" width="20.3" height="20.8" fill="none" stroke="#555" stroke-width="0.6" />
<rect x="347.5" y="273.1" width="20.3" height="19.2" fill="none" stroke="#555" stroke-width="0.6" />
<rect x="367.8" y="273.1" width="19.7" height="19.2" fill="none" stroke="#555" stroke-width="0.6" />
<text stroke="#5aaedc" stroke-width="0.15" x="348" y="271.1" font-size="6" fill="#5aaedc" textLength="6.6" lengthAdjust="spacingAndGlyphs">P1</text>
<text stroke="#f6c898" stroke-width="0.15" x="348" y="291" font-size="6" fill="#f6c898" textLength="6.6" lengthAdjust="spacingAndGlyphs">P2</text>
<text stroke="#c8325a" stroke-width="0.15" x="370" y="290.6" font-size="6" fill="#c8325a" textLength="6.6" lengthAdjust="spacingAndGlyphs">P3</text>
<line x1="398" y1="285" x2="413.6" y2="285" stroke="#222" stroke-width="0.9" />
<path d="M416.4,285.0 L412.8,283.3 L412.8,286.7 Z" stroke="none" fill="#222" stroke-width="1" />
<rect x="416.3" y="240.3" width="44.3" height="55" fill="#fff" stroke="#1a1a1a" stroke-width="1" />
<line x1="418" y1="295.3" x2="418" y2="296.5" stroke="#333" stroke-width="0.5" />
<line x1="420.2" y1="295.3" x2="420.2" y2="296.5" stroke="#333" stroke-width="0.5" />
<line x1="422.4" y1="295.3" x2="422.4" y2="296.5" stroke="#333" stroke-width="0.5" />
<line x1="424.6" y1="295.3" x2="424.6" y2="296.5" stroke="#333" stroke-width="0.5" />
<line x1="426.8" y1="295.3" x2="426.8" y2="296.5" stroke="#333" stroke-width="0.5" />
<line x1="429" y1="295.3" x2="429" y2="296.5" stroke="#333" stroke-width="0.5" />
<line x1="431.2" y1="295.3" x2="431.2" y2="296.5" stroke="#333" stroke-width="0.5" />
<line x1="433.4" y1="295.3" x2="433.4" y2="296.5" stroke="#333" stroke-width="0.5" />
<line x1="435.6" y1="295.3" x2="435.6" y2="296.5" stroke="#333" stroke-width="0.5" />
<line x1="437.8" y1="295.3" x2="437.8" y2="296.5" stroke="#333" stroke-width="0.5" />
<line x1="440" y1="295.3" x2="440" y2="296.5" stroke="#333" stroke-width="0.5" />
<line x1="442.2" y1="295.3" x2="442.2" y2="296.5" stroke="#333" stroke-width="0.5" />
<line x1="444.4" y1="295.3" x2="444.4" y2="296.5" stroke="#333" stroke-width="0.5" />
<line x1="446.6" y1="295.3" x2="446.6" y2="296.5" stroke="#333" stroke-width="0.5" />
<line x1="448.8" y1="295.3" x2="448.8" y2="296.5" stroke="#333" stroke-width="0.5" />
<line x1="451" y1="295.3" x2="451" y2="296.5" stroke="#333" stroke-width="0.5" />
<line x1="453.2" y1="295.3" x2="453.2" y2="296.5" stroke="#333" stroke-width="0.5" />
<line x1="455.4" y1="295.3" x2="455.4" y2="296.5" stroke="#333" stroke-width="0.5" />
<line x1="457.6" y1="295.3" x2="457.6" y2="296.5" stroke="#333" stroke-width="0.5" />
<line x1="459.8" y1="295.3" x2="459.8" y2="296.5" stroke="#333" stroke-width="0.5" />
<path d="M417,267.8 L431.6,267.8 Q433.2,260 434.2,251 Q435.0,247.6 435.8,250 Q437.0,258 438.0,262 Q439.0,266.5 441,267.8 L460,267.8" stroke="#6aaee0" fill="#bcdcf2" stroke-width="0.6" />
<path d="M417,281.3 L432.8,281.3 Q434.6,270 436.4,262 Q437.8,258.2 439.2,261 Q442.0,268 444.2,274 Q446.6,280 449.0,281.3 L460,281.3" stroke="#f0a850" fill="#f8d0a0" stroke-width="0.6" />
<path d="M435.4,295.2 Q438.5,286.5 441.2,282 Q443.6,277.6 446.0,278.2 Q448.8,279.5 450.4,285 Q451.8,290.5 453.0,295.2 Z" stroke="#c03040" fill="#ec9a94" stroke-width="0.6" />
<line x1="417" y1="267.8" x2="460" y2="267.8" stroke="#9cc8ea" stroke-width="0.6" />
<line x1="417" y1="281.3" x2="460" y2="281.3" stroke="#f4c098" stroke-width="0.6" />
<text stroke="#6ab0e0" stroke-width="0.15" x="417.6" y="266.3" font-size="6.2" fill="#6ab0e0" textLength="6.8" lengthAdjust="spacingAndGlyphs">P1</text>
<text stroke="#f0b070" stroke-width="0.15" x="417.6" y="279" font-size="6.2" fill="#f0b070" textLength="6.8" lengthAdjust="spacingAndGlyphs">P2</text>
<text stroke="#d04060" stroke-width="0.15" x="417.6" y="291.3" font-size="6.2" fill="#d04060" textLength="7.4" lengthAdjust="spacingAndGlyphs">P3</text>
<text stroke="#231f20" stroke-width="0.15" x="459.6" y="266.3" font-size="6.2" text-anchor="end" textLength="17.4" lengthAdjust="spacingAndGlyphs">11539</text>
<text stroke="#231f20" stroke-width="0.15" x="459.6" y="279" font-size="6.2" text-anchor="end" textLength="17.4" lengthAdjust="spacingAndGlyphs">24358</text>
<text stroke="#231f20" stroke-width="0.15" x="459.6" y="291.3" font-size="6.2" text-anchor="end" textLength="18" lengthAdjust="spacingAndGlyphs">65082</text>
<text stroke="#231f20" stroke-width="0.05" x="438.7" y="324.4" font-size="9.8" text-anchor="middle" font-weight="bold" textLength="15" lengthAdjust="spacingAndGlyphs">CD45</text>
<text stroke="#231f20" stroke-width="0.15" transform="translate(435,304.7) rotate(-46)" x="0" y="0" font-size="7.6" text-anchor="end" textLength="4" lengthAdjust="spacingAndGlyphs">0</text>
<text stroke="#231f20" stroke-width="0.15" transform="translate(450.6,303.2) rotate(-46)" x="0" y="0" font-size="7.6" text-anchor="end" textLength="11.6" lengthAdjust="spacingAndGlyphs">10<tspan font-size="5.4" dy="-2.8">5</tspan></text>
<text stroke="#231f20" stroke-width="0.15" transform="translate(462,303.2) rotate(-46)" x="0" y="0" font-size="7.6" text-anchor="end" textLength="11.6" lengthAdjust="spacingAndGlyphs">10<tspan font-size="5.4" dy="-2.8">6</tspan></text>
<text stroke="#231f20" stroke-width="0.15" x="7" y="349.8" font-size="10.4" font-weight="bold" textLength="6.2" lengthAdjust="spacingAndGlyphs">E</text>
<line x1="33.6" y1="361.9" x2="33.6" y2="443.2" stroke="#231f20" stroke-width="1.1" />
<line x1="31" y1="442.7" x2="33.6" y2="442.7" stroke="#231f20" stroke-width="0.9" />
<text stroke="#231f20" stroke-width="0.15" x="28.2" y="445.05" font-size="6.5" text-anchor="end" textLength="4.2" lengthAdjust="spacingAndGlyphs">0</text>
<line x1="31" y1="423.1" x2="33.6" y2="423.1" stroke="#231f20" stroke-width="0.9" />
<text stroke="#231f20" stroke-width="0.15" x="28.2" y="425.45" font-size="6.5" text-anchor="end" textLength="4.2" lengthAdjust="spacingAndGlyphs">5</text>
<line x1="31" y1="403.5" x2="33.6" y2="403.5" stroke="#231f20" stroke-width="0.9" />
<text stroke="#231f20" stroke-width="0.15" x="28.2" y="405.85" font-size="6.5" text-anchor="end" textLength="8.4" lengthAdjust="spacingAndGlyphs">10</text>
<line x1="31" y1="383.9" x2="33.6" y2="383.9" stroke="#231f20" stroke-width="0.9" />
<text stroke="#231f20" stroke-width="0.15" x="28.2" y="386.25" font-size="6.5" text-anchor="end" textLength="8.4" lengthAdjust="spacingAndGlyphs">15</text>
<line x1="31" y1="364.3" x2="33.6" y2="364.3" stroke="#231f20" stroke-width="0.9" />
<text stroke="#231f20" stroke-width="0.15" x="28.2" y="366.65" font-size="6.5" text-anchor="end" textLength="8.4" lengthAdjust="spacingAndGlyphs">20</text>
<line x1="33.1" y1="442.8" x2="51.9" y2="442.8" stroke="#231f20" stroke-width="1.2" />
<line x1="57.2" y1="442.8" x2="106.4" y2="442.8" stroke="#231f20" stroke-width="1.2" />
<line x1="63.4" y1="442.8" x2="63.4" y2="445" stroke="#231f20" stroke-width="0.9" />
<line x1="83.3" y1="442.8" x2="83.3" y2="445" stroke="#231f20" stroke-width="0.9" />
<line x1="103.3" y1="442.8" x2="103.3" y2="445" stroke="#231f20" stroke-width="0.9" />
<path d="M33.8,442.5 L51.9,422.6" stroke="#1b2633" fill="none" stroke-width="1.1" />
<path d="M57.6,416.7 L63.4,410.6 L83.3,400.3 L103.3,372.0" stroke="#1b2633" fill="none" stroke-width="1.1" fill="none"/>
<line x1="63.4" y1="399.5" x2="63.4" y2="420.6" stroke="#3b4a5a" stroke-width="0.8" />
<line x1="61.6" y1="399.5" x2="65.2" y2="399.5" stroke="#3b4a5a" stroke-width="0.8" />
<line x1="61.6" y1="420.6" x2="65.2" y2="420.6" stroke="#3b4a5a" stroke-width="0.8" />
<line x1="83.3" y1="390.3" x2="83.3" y2="409.6" stroke="#3b4a5a" stroke-width="0.8" />
<line x1="81.5" y1="390.3" x2="85.1" y2="390.3" stroke="#3b4a5a" stroke-width="0.8" />
<line x1="81.5" y1="409.6" x2="85.1" y2="409.6" stroke="#3b4a5a" stroke-width="0.8" />
<line x1="103.3" y1="368.8" x2="103.3" y2="374.6" stroke="#3b4a5a" stroke-width="0.8" />
<line x1="101.5" y1="368.8" x2="105.1" y2="368.8" stroke="#3b4a5a" stroke-width="0.8" />
<line x1="101.5" y1="374.6" x2="105.1" y2="374.6" stroke="#3b4a5a" stroke-width="0.8" />
<circle cx="33.8" cy="442.5" r="1.2" fill="#1f4a78"/>
<circle cx="63.4" cy="410.6" r="1.2" fill="#1f4a78"/>
<circle cx="83.3" cy="400.3" r="1.2" fill="#1f4a78"/>
<circle cx="103.3" cy="372" r="1.2" fill="#1f4a78"/>
<text stroke="#333" stroke-width="0.15" x="63.6" y="395.4" font-size="6.4" text-anchor="middle" fill="#333" textLength="7.4" lengthAdjust="spacingAndGlyphs">ns</text>
<text stroke="#231f20" stroke-width="0.3" x="82.6" y="389.06" font-size="6" text-anchor="middle">*</text>
<text stroke="#231f20" stroke-width="0.3" x="103.4" y="367.46" font-size="6" text-anchor="middle" textLength="7.6" lengthAdjust="spacingAndGlyphs">***</text>
<text stroke="#231f20" stroke-width="0.15" x="33.6" y="455" font-size="6.6" text-anchor="middle" textLength="14.6" lengthAdjust="spacingAndGlyphs">IgG1</text>
<text stroke="#231f20" stroke-width="0.15" x="63.8" y="454.8" font-size="6.6" text-anchor="middle" textLength="13" lengthAdjust="spacingAndGlyphs">10<tspan font-size="4.4" dy="-2.6">−1</tspan></text>
<text stroke="#231f20" stroke-width="0.15" x="83.6" y="454.8" font-size="6.6" text-anchor="middle" textLength="11" lengthAdjust="spacingAndGlyphs">10<tspan font-size="4.4" dy="-2.6">0</tspan></text>
<text stroke="#231f20" stroke-width="0.15" x="103.6" y="454.8" font-size="6.6" text-anchor="middle" textLength="10.4" lengthAdjust="spacingAndGlyphs">10<tspan font-size="4.4" dy="-2.6">1</tspan></text>
<text stroke="#231f20" stroke-width="0.2" x="70.5" y="468.2" font-size="8.2" text-anchor="middle" textLength="55.6" lengthAdjust="spacingAndGlyphs">anti-TNFα (µg/mL)</text>
<text stroke="#231f20" stroke-width="0.3" transform="translate(13.2,402.8) rotate(-90)" x="0" y="0" font-size="7.6" text-anchor="middle" textLength="86" lengthAdjust="spacingAndGlyphs">OCI-AML3 killing inhibition (%)</text>
<line x1="159.8" y1="362.1" x2="159.8" y2="443.4" stroke="#231f20" stroke-width="1.1" />
<line x1="157.2" y1="442.9" x2="159.8" y2="442.9" stroke="#231f20" stroke-width="0.9" />
<text stroke="#231f20" stroke-width="0.15" x="154.4" y="445.3" font-size="6.5" text-anchor="end" textLength="4.3" lengthAdjust="spacingAndGlyphs">0</text>
<line x1="157.2" y1="427.3" x2="159.8" y2="427.3" stroke="#231f20" stroke-width="0.9" />
<text stroke="#231f20" stroke-width="0.15" x="154.4" y="429.7" font-size="6.5" text-anchor="end" textLength="4.3" lengthAdjust="spacingAndGlyphs">5</text>
<line x1="157.2" y1="411.7" x2="159.8" y2="411.7" stroke="#231f20" stroke-width="0.9" />
<text stroke="#231f20" stroke-width="0.15" x="154.4" y="414.1" font-size="6.5" text-anchor="end" textLength="8.6" lengthAdjust="spacingAndGlyphs">10</text>
<line x1="157.2" y1="396.1" x2="159.8" y2="396.1" stroke="#231f20" stroke-width="0.9" />
<text stroke="#231f20" stroke-width="0.15" x="154.4" y="398.5" font-size="6.5" text-anchor="end" textLength="8.6" lengthAdjust="spacingAndGlyphs">15</text>
<line x1="157.2" y1="380.5" x2="159.8" y2="380.5" stroke="#231f20" stroke-width="0.9" />
<text stroke="#231f20" stroke-width="0.15" x="154.4" y="382.9" font-size="6.5" text-anchor="end" textLength="8.6" lengthAdjust="spacingAndGlyphs">20</text>
<line x1="157.2" y1="364.9" x2="159.8" y2="364.9" stroke="#231f20" stroke-width="0.9" />
<text stroke="#231f20" stroke-width="0.15" x="154.4" y="367.3" font-size="6.5" text-anchor="end" textLength="8.6" lengthAdjust="spacingAndGlyphs">25</text>
<line x1="159.3" y1="442.9" x2="276.3" y2="442.9" stroke="#231f20" stroke-width="1.2" />
<line x1="188.5" y1="442.9" x2="188.5" y2="445.1" stroke="#231f20" stroke-width="0.9" />
<line x1="247.2" y1="442.9" x2="247.2" y2="445.1" stroke="#231f20" stroke-width="0.9" />
<rect x="192" y="390.48" width="15.6" height="52.42" fill="#c4122c" />
<line x1="199.8" y1="387.99" x2="199.8" y2="390.48" stroke="#231f20" stroke-width="0.8" />
<line x1="197.6" y1="387.99" x2="202" y2="387.99" stroke="#231f20" stroke-width="0.8" />
<rect x="251.2" y="379.56" width="14.7" height="63.34" fill="#c4122c" />
<line x1="258.5" y1="369.58" x2="258.5" y2="379.56" stroke="#231f20" stroke-width="0.8" />
<line x1="254.6" y1="369.58" x2="262.2" y2="369.58" stroke="#231f20" stroke-width="0.8" />
<line x1="233" y1="438.2" x2="240.5" y2="438.2" stroke="#231f20" stroke-width="0.8" />
<line x1="236.7" y1="438.2" x2="236.7" y2="442.9" stroke="#231f20" stroke-width="0.8" />
<path d="M177.3,438.3 L177.3,382.3 L199.8,382.3" stroke="#444" fill="none" stroke-width="0.6" />
<path d="M236.5,438.2 L236.5,363.3 L258.5,363.3" stroke="#444" fill="none" stroke-width="0.6" />
<text stroke="#231f20" stroke-width="0.3" x="188.8" y="381.86" font-size="6" text-anchor="middle" textLength="7.6" lengthAdjust="spacingAndGlyphs">***</text>
<text stroke="#231f20" stroke-width="0.3" x="248" y="362.06" font-size="6" text-anchor="middle" textLength="7.6" lengthAdjust="spacingAndGlyphs">***</text>
<rect x="166.7" y="354.1" width="3.9" height="4" fill="#1f4e6e" />
<rect x="166.7" y="363.6" width="3.9" height="3.9" fill="#c4122c" />
<text stroke="#231f20" stroke-width="0.15" x="175.6" y="358.4" font-size="7" textLength="11.8" lengthAdjust="spacingAndGlyphs">IgG1</text>
<text stroke="#231f20" stroke-width="0.15" x="175.6" y="367.6" font-size="7" textLength="28.8" lengthAdjust="spacingAndGlyphs">anti-TNFα</text>
<text stroke="#231f20" stroke-width="0.15" x="188" y="455.6" font-size="7" text-anchor="middle" textLength="32.6" lengthAdjust="spacingAndGlyphs">OCI-AML2</text>
<text stroke="#231f20" stroke-width="0.15" x="247.2" y="455.4" font-size="7" text-anchor="middle" textLength="25.2" lengthAdjust="spacingAndGlyphs">MV4-11</text>
<text stroke="#231f20" stroke-width="0.32" transform="translate(139,402.7) rotate(-90)" x="0" y="0" font-size="7.8" text-anchor="middle" textLength="56" lengthAdjust="spacingAndGlyphs">Killing inhibition (%)</text>
<text stroke="#231f20" stroke-width="0.15" x="306.6" y="350.4" font-size="10" font-weight="bold" textLength="6.2" lengthAdjust="spacingAndGlyphs">F</text>
<text stroke="#231f20" stroke-width="0.15" x="335" y="368.7" font-size="7.8" text-anchor="middle" font-style="italic" textLength="22" lengthAdjust="spacingAndGlyphs">In Vitro</text>
<text stroke="#231f20" stroke-width="0.15" x="334.7" y="378.3" font-size="7.8" text-anchor="middle" textLength="34.6" lengthAdjust="spacingAndGlyphs">OCI-AML2</text>
<text stroke="#231f20" stroke-width="0.15" x="334.6" y="386.8" font-size="7.8" text-anchor="middle" textLength="46" lengthAdjust="spacingAndGlyphs">± rTNFα (24h)</text>
<path d="M361.5,376.3 L378.5,376.3 L378.5,383.5" stroke="#222" fill="none" stroke-width="0.8" stroke-dasharray="1.6,1.2"/>
<path d="M378.5,386.8 L376.9,383.3 L380.1,383.3 Z" stroke="none" fill="#222" stroke-width="1" />
<text stroke="#231f20" stroke-width="0.15" x="378" y="396.3" font-size="7.8" text-anchor="middle" textLength="9.8" lengthAdjust="spacingAndGlyphs">D0</text>
<text stroke="#231f20" stroke-width="0.15" x="346" y="404.8" font-size="7.8" textLength="62.8" lengthAdjust="spacingAndGlyphs">OCI-AML2 (2×10<tspan font-size="5" dy="-3">6</tspan><tspan dy="3">)</tspan></text>
<line x1="378.5" y1="406.2" x2="378.5" y2="416" stroke="#222" stroke-width="0.8" />
<path d="M378.5,419.0 L376.9,415.4 L380.1,415.4 Z" stroke="none" fill="#222" stroke-width="1" />
<line x1="355.6" y1="421.6" x2="479" y2="421.6" stroke="#111" stroke-width="1.5" />
<path d="M482.6,421.6 L477.6,419.2 L477.6,424.0 Z" stroke="none" fill="#111" stroke-width="1" />
<path d="M324.4,406.1 C320.4,406.4 317.0,408.8 315.7,412.0 C314.5,415.4 315.3,419.2 317.6,421.9 C318.4,422.9 319.4,423.5 320.6,423.8" stroke="#111" fill="none" stroke-width="1.25" />
<path d="M319.3,424.8 C318.6,421.6 318.9,417.6 321.3,415.0 C322.9,413.3 325.0,412.5 327.6,412.2 C330.0,412.0 332.6,412.3 334.9,412.6 L335.8,411.5 L336.7,412.2 L337.2,413.1 C339.4,414.0 341.6,414.6 343.2,415.3 C344.6,415.8 346.0,416.1 346.9,416.5 L346.3,417.4 C345.0,418.0 343.6,418.6 342.6,419.1 C341.8,419.6 341.0,420.0 340.6,420.6 L340.1,422.0 L339.7,424.0 L340.8,424.8 L336.9,424.8 L335.4,423.3 C334.0,423.0 332.6,422.9 331.4,423.0 L330.4,423.8 L331.0,424.8 Z" stroke="none" fill="#111" stroke-width="1" />
<path d="M327.5,418.0 C326.7,419.4 326.6,421.2 327.2,422.6 L328.2,423.3" stroke="#fff" fill="none" stroke-width="0.55" />
<text stroke="#231f20" stroke-width="0.15" x="326.8" y="433.4" font-size="7.8" text-anchor="middle" textLength="40.2" lengthAdjust="spacingAndGlyphs">NSG Mouse</text>
<line x1="356.2" y1="436.4" x2="356.2" y2="429.5" stroke="#222" stroke-width="0.8" />
<path d="M356.2,426.6 L354.6,430.2 L357.8,430.2 Z" stroke="none" fill="#222" stroke-width="1" />
<text stroke="#231f20" stroke-width="0.15" x="356.2" y="446.5" font-size="7.8" text-anchor="middle" textLength="11.6" lengthAdjust="spacingAndGlyphs">D-1</text>
<text stroke="#231f20" stroke-width="0.15" x="356.3" y="455.6" font-size="7.8" text-anchor="middle" textLength="27.9" lengthAdjust="spacingAndGlyphs">225 cGy</text>
<line x1="421.9" y1="435.9" x2="421.9" y2="428.2" stroke="#222" stroke-width="0.8" />
<path d="M421.9,425.2 L420.3,428.8 L423.5,428.8 Z" stroke="none" fill="#222" stroke-width="1" />
<line x1="434.8" y1="435.9" x2="434.8" y2="428.2" stroke="#222" stroke-width="0.8" />
<path d="M434.8,425.2 L433.2,428.8 L436.4,428.8 Z" stroke="none" fill="#222" stroke-width="1" />
<text stroke="#231f20" stroke-width="0.15" x="428.1" y="446.3" font-size="7.8" text-anchor="middle" textLength="28.8" lengthAdjust="spacingAndGlyphs">D1 &amp; D4</text>
<text stroke="#231f20" stroke-width="0.15" x="427.5" y="455.6" font-size="7.8" text-anchor="middle" textLength="47" lengthAdjust="spacingAndGlyphs">DNT (20×10<tspan font-size="5" dy="-3">6</tspan><tspan dy="3">)</tspan></text>
<text stroke="#231f20" stroke-width="0.15" x="428" y="464.2" font-size="7.8" text-anchor="middle" textLength="46" lengthAdjust="spacingAndGlyphs">+ IL-2 (10<tspan font-size="5" dy="-3">4</tspan><tspan dy="3"> IU)</tspan></text>
<text stroke="#231f20" stroke-width="0.15" x="466.6" y="395.6" font-size="7.8" text-anchor="middle" textLength="13.4" lengthAdjust="spacingAndGlyphs">D11</text>
<text stroke="#231f20" stroke-width="0.15" x="468.1" y="404.8" font-size="7.8" text-anchor="middle" textLength="39.2" lengthAdjust="spacingAndGlyphs">IL-2 (10<tspan font-size="5" dy="-3">4</tspan><tspan dy="3"> IU)</tspan></text>
<line x1="467.4" y1="408.5" x2="467.4" y2="416.6" stroke="#222" stroke-width="0.8" />
<path d="M467.4,419.5 L465.8,415.9 L469.0,415.9 Z" stroke="none" fill="#222" stroke-width="1" />
<text stroke="#231f20" stroke-width="0.15" x="499.5" y="423" font-size="7.8" text-anchor="middle" textLength="13.2" lengthAdjust="spacingAndGlyphs">D14</text>
<text stroke="#231f20" stroke-width="0.15" x="499.2" y="432.3" font-size="7.8" text-anchor="middle" textLength="27.6" lengthAdjust="spacingAndGlyphs">Sacrifice</text>
<text stroke="#231f20" stroke-width="0.15" x="140.6" y="493.8" font-size="10" font-weight="bold" textLength="7.6" lengthAdjust="spacingAndGlyphs">G</text>
<line x1="179.2" y1="507" x2="179.2" y2="598.3" stroke="#231f20" stroke-width="1.1" />
<line x1="176.6" y1="597.6" x2="179.2" y2="597.6" stroke="#231f20" stroke-width="0.9" />
<text stroke="#231f20" stroke-width="0.15" x="173.2" y="600" font-size="6.6" text-anchor="end" textLength="4.25" lengthAdjust="spacingAndGlyphs">0</text>
<line x1="176.6" y1="579.98" x2="179.2" y2="579.98" stroke="#231f20" stroke-width="0.9" />
<text stroke="#231f20" stroke-width="0.15" x="173.2" y="582.38" font-size="6.6" text-anchor="end" textLength="8.5" lengthAdjust="spacingAndGlyphs">10</text>
<line x1="176.6" y1="562.36" x2="179.2" y2="562.36" stroke="#231f20" stroke-width="0.9" />
<text stroke="#231f20" stroke-width="0.15" x="173.2" y="564.76" font-size="6.6" text-anchor="end" textLength="8.5" lengthAdjust="spacingAndGlyphs">20</text>
<line x1="176.6" y1="544.74" x2="179.2" y2="544.74" stroke="#231f20" stroke-width="0.9" />
<text stroke="#231f20" stroke-width="0.15" x="173.2" y="547.14" font-size="6.6" text-anchor="end" textLength="8.5" lengthAdjust="spacingAndGlyphs">30</text>
<line x1="176.6" y1="527.12" x2="179.2" y2="527.12" stroke="#231f20" stroke-width="0.9" />
<text stroke="#231f20" stroke-width="0.15" x="173.2" y="529.52" font-size="6.6" text-anchor="end" textLength="8.5" lengthAdjust="spacingAndGlyphs">40</text>
<line x1="176.6" y1="509.5" x2="179.2" y2="509.5" stroke="#231f20" stroke-width="0.9" />
<text stroke="#231f20" stroke-width="0.15" x="173.2" y="511.9" font-size="6.6" text-anchor="end" textLength="8.5" lengthAdjust="spacingAndGlyphs">50</text>
<line x1="178.7" y1="597.8" x2="281.4" y2="597.8" stroke="#231f20" stroke-width="1.2" />
<line x1="191.9" y1="597.8" x2="191.9" y2="600.2" stroke="#231f20" stroke-width="0.9" />
<text stroke="#231f20" stroke-width="0.15" transform="translate(194.5,605.2) rotate(-45)" x="0" y="0" font-size="7.3" text-anchor="end">PBS</text>
<line x1="217.6" y1="597.8" x2="217.6" y2="600.2" stroke="#231f20" stroke-width="0.9" />
<text stroke="#231f20" stroke-width="0.15" transform="translate(220.2,605.2) rotate(-45)" x="0" y="0" font-size="7.3" text-anchor="end">TNF</text>
<line x1="243.5" y1="597.8" x2="243.5" y2="600.2" stroke="#231f20" stroke-width="0.9" />
<text stroke="#231f20" stroke-width="0.15" transform="translate(246.1,605.2) rotate(-45)" x="0" y="0" font-size="7.3" text-anchor="end">DNT</text>
<line x1="269.3" y1="597.8" x2="269.3" y2="600.2" stroke="#231f20" stroke-width="0.9" />
<text stroke="#231f20" stroke-width="0.15" transform="translate(271.9,605.2) rotate(-45)" x="0" y="0" font-size="7.3" text-anchor="end">DNT+TNF</text>
<rect x="183.3" y="557.96" width="17.2" height="39.84" fill="#a6b4d8" />
<line x1="191.9" y1="537.4" x2="191.9" y2="577.2" stroke="#1f4a8a" stroke-width="0.8" />
<line x1="188.3" y1="537.4" x2="195.5" y2="537.4" stroke="#1f4a8a" stroke-width="0.8" />
<line x1="188.3" y1="577.2" x2="195.5" y2="577.2" stroke="#1f4a8a" stroke-width="0.8" />
<rect x="209" y="561.48" width="17.2" height="36.32" fill="#f2a9a2" />
<line x1="217.6" y1="544.6" x2="217.6" y2="577" stroke="#c8102e" stroke-width="0.8" />
<line x1="214" y1="544.6" x2="221.2" y2="544.6" stroke="#c8102e" stroke-width="0.8" />
<line x1="214" y1="577" x2="221.2" y2="577" stroke="#c8102e" stroke-width="0.8" />
<rect x="234.9" y="567.29" width="17.2" height="30.51" fill="#c2e2b9" />
<line x1="243.5" y1="550.5" x2="243.5" y2="582.8" stroke="#4aae48" stroke-width="0.8" />
<line x1="239.9" y1="550.5" x2="247.1" y2="550.5" stroke="#4aae48" stroke-width="0.8" />
<line x1="239.9" y1="582.8" x2="247.1" y2="582.8" stroke="#4aae48" stroke-width="0.8" />
<rect x="260.7" y="579.1" width="17.2" height="18.7" fill="#c6acd6" />
<line x1="269.3" y1="569.3" x2="269.3" y2="588.6" stroke="#4b1d68" stroke-width="0.8" />
<line x1="265.7" y1="569.3" x2="272.9" y2="569.3" stroke="#4b1d68" stroke-width="0.8" />
<line x1="265.7" y1="588.6" x2="272.9" y2="588.6" stroke="#4b1d68" stroke-width="0.8" />
<circle cx="191.8" cy="520.8" r="1.15" fill="#1f4a8a"/>
<circle cx="191.8" cy="527" r="1.15" fill="#1f4a8a"/>
<circle cx="196.2" cy="544.6" r="1.15" fill="#1f4a8a"/>
<circle cx="191.8" cy="546.5" r="1.15" fill="#1f4a8a"/>
<circle cx="191.8" cy="556.6" r="1.15" fill="#1f4a8a"/>
<circle cx="187.2" cy="569.5" r="1.15" fill="#1f4a8a"/>
<circle cx="191.8" cy="569" r="1.15" fill="#1f4a8a"/>
<circle cx="196.2" cy="566.5" r="1.15" fill="#1f4a8a"/>
<circle cx="191.8" cy="574" r="1.15" fill="#1f4a8a"/>
<circle cx="196.2" cy="575.7" r="1.15" fill="#1f4a8a"/>
<circle cx="191.8" cy="579.7" r="1.15" fill="#1f4a8a"/>
<rect x="216.65" y="535.55" width="2.1" height="2.1" fill="#c8102e" />
<rect x="216.65" y="542.35" width="2.1" height="2.1" fill="#c8102e" />
<rect x="211.95" y="547.45" width="2.1" height="2.1" fill="#c8102e" />
<rect x="216.65" y="548.95" width="2.1" height="2.1" fill="#c8102e" />
<rect x="221.25" y="548.95" width="2.1" height="2.1" fill="#c8102e" />
<rect x="211.95" y="554.35" width="2.1" height="2.1" fill="#c8102e" />
<rect x="216.65" y="557.45" width="2.1" height="2.1" fill="#c8102e" />
<rect x="221.25" y="559.75" width="2.1" height="2.1" fill="#c8102e" />
<rect x="216.65" y="563.95" width="2.1" height="2.1" fill="#c8102e" />
<rect x="211.95" y="577.15" width="2.1" height="2.1" fill="#c8102e" />
<rect x="216.65" y="577.75" width="2.1" height="2.1" fill="#c8102e" />
<rect x="221.25" y="580.45" width="2.1" height="2.1" fill="#c8102e" />
<rect x="216.65" y="584.35" width="2.1" height="2.1" fill="#c8102e" />
<path d="M242.3,531.28 L244.7,531.28 L243.5,529.12 Z" fill="#4aae48"/>
<path d="M242.3,546.58 L244.7,546.58 L243.5,544.42 Z" fill="#4aae48"/>
<path d="M238,571.28 L240.4,571.28 L239.2,569.12 Z" fill="#4aae48"/>
<path d="M242.3,570.88 L244.7,570.88 L243.5,568.72 Z" fill="#4aae48"/>
<path d="M246.6,569.08 L249,569.08 L247.8,566.92 Z" fill="#4aae48"/>
<path d="M238,575.58 L240.4,575.58 L239.2,573.42 Z" fill="#4aae48"/>
<path d="M246.6,575.58 L249,575.58 L247.8,573.42 Z" fill="#4aae48"/>
<path d="M242.3,577.08 L244.7,577.08 L243.5,574.92 Z" fill="#4aae48"/>
<path d="M238,579.58 L240.4,579.58 L239.2,577.42 Z" fill="#4aae48"/>
<path d="M246.6,579.58 L249,579.58 L247.8,577.42 Z" fill="#4aae48"/>
<path d="M242.3,582.08 L244.7,582.08 L243.5,579.92 Z" fill="#4aae48"/>
<path d="M268,558.82 L270.4,558.82 L269.2,560.98 Z" fill="#4b1d68"/>
<path d="M268,564.72 L270.4,564.72 L269.2,566.88 Z" fill="#4b1d68"/>
<path d="M263.8,570.22 L266.2,570.22 L265,572.38 Z" fill="#4b1d68"/>
<path d="M268,570.22 L270.4,570.22 L269.2,572.38 Z" fill="#4b1d68"/>
<path d="M272.6,569.52 L275,569.52 L273.8,571.68 Z" fill="#4b1d68"/>
<path d="M263.8,576.52 L266.2,576.52 L265,578.68 Z" fill="#4b1d68"/>
<path d="M268,577.32 L270.4,577.32 L269.2,579.48 Z" fill="#4b1d68"/>
<path d="M272.6,576.52 L275,576.52 L273.8,578.68 Z" fill="#4b1d68"/>
<path d="M263.8,580.92 L266.2,580.92 L265,583.08 Z" fill="#4b1d68"/>
<path d="M268,581.52 L270.4,581.52 L269.2,583.68 Z" fill="#4b1d68"/>
<path d="M272.6,580.92 L275,580.92 L273.8,583.08 Z" fill="#4b1d68"/>
<path d="M265.8,584.32 L268.2,584.32 L267,586.48 Z" fill="#4b1d68"/>
<path d="M270.2,584.32 L272.6,584.32 L271.4,586.48 Z" fill="#4b1d68"/>
<path d="M268,592.92 L270.4,592.92 L269.2,595.08 Z" fill="#4b1d68"/>
<path d="M272.6,591.32 L275,591.32 L273.8,593.48 Z" fill="#4b1d68"/>
<line x1="191.9" y1="506.2" x2="269.8" y2="506.2" stroke="#555" stroke-width="0.8" />
<text stroke="#231f20" stroke-width="0.3" x="230.5" y="504.66" font-size="6" text-anchor="middle" textLength="4.8" lengthAdjust="spacingAndGlyphs">**</text>
<line x1="191.9" y1="514.9" x2="216" y2="514.9" stroke="#555" stroke-width="0.8" />
<line x1="219.6" y1="514.9" x2="269.8" y2="514.9" stroke="#555" stroke-width="0.8" />
<text stroke="#333" stroke-width="0.15" x="187.6" y="513.2" font-size="7" fill="#333" textLength="31.6" lengthAdjust="spacingAndGlyphs"><tspan font-style="italic">P</tspan> = .5837</text>
<text stroke="#231f20" stroke-width="0.3" x="244.7" y="514.46" font-size="6" text-anchor="middle">*</text>
<text stroke="#333" stroke-width="0.15" x="242.1" y="524.4" font-size="7" fill="#333" textLength="28.4" lengthAdjust="spacingAndGlyphs"><tspan font-style="italic">P</tspan> = .065</text>
<line x1="243.8" y1="526.7" x2="269.8" y2="526.7" stroke="#555" stroke-width="0.8" />
<text stroke="#231f20" stroke-width="0.3" transform="translate(159.2,552.6) rotate(-90)" x="0" y="0" font-size="7.6" text-anchor="middle" textLength="61.4" lengthAdjust="spacingAndGlyphs">AML engraftment (%)</text>
<line x1="328.1" y1="507.8" x2="328.1" y2="597.7" stroke="#231f20" stroke-width="1.1" />
<line x1="325.5" y1="597.2" x2="328.1" y2="597.2" stroke="#231f20" stroke-width="0.9" />
<text stroke="#231f20" stroke-width="0.15" x="322.6" y="599.7" font-size="7" text-anchor="end" textLength="4.05" lengthAdjust="spacingAndGlyphs">0</text>
<line x1="325.5" y1="575.33" x2="328.1" y2="575.33" stroke="#231f20" stroke-width="0.9" />
<text stroke="#231f20" stroke-width="0.15" x="322.6" y="577.83" font-size="7" text-anchor="end" textLength="8.1" lengthAdjust="spacingAndGlyphs">50</text>
<line x1="325.5" y1="553.45" x2="328.1" y2="553.45" stroke="#231f20" stroke-width="0.9" />
<text stroke="#231f20" stroke-width="0.15" x="322.6" y="555.95" font-size="7" text-anchor="end" textLength="12.15" lengthAdjust="spacingAndGlyphs">100</text>
<line x1="325.5" y1="531.58" x2="328.1" y2="531.58" stroke="#231f20" stroke-width="0.9" />
<text stroke="#231f20" stroke-width="0.15" x="322.6" y="534.08" font-size="7" text-anchor="end" textLength="12.15" lengthAdjust="spacingAndGlyphs">150</text>
<line x1="325.5" y1="509.7" x2="328.1" y2="509.7" stroke="#231f20" stroke-width="0.9" />
<text stroke="#231f20" stroke-width="0.15" x="322.6" y="512.2" font-size="7" text-anchor="end" textLength="12.15" lengthAdjust="spacingAndGlyphs">200</text>
<line x1="327.6" y1="597.2" x2="380.5" y2="597.2" stroke="#231f20" stroke-width="1.2" />
<line x1="341.6" y1="597.2" x2="341.6" y2="599.6" stroke="#231f20" stroke-width="0.9" />
<text stroke="#231f20" stroke-width="0.15" transform="translate(344.2,604.6) rotate(-45)" x="0" y="0" font-size="7.3" text-anchor="end">DNT</text>
<line x1="367.2" y1="597.2" x2="367.2" y2="599.6" stroke="#231f20" stroke-width="0.9" />
<text stroke="#231f20" stroke-width="0.15" transform="translate(369.8,604.6) rotate(-45)" x="0" y="0" font-size="7.3" text-anchor="end">DNT+TNF</text>
<rect x="333.3" y="563.73" width="16.5" height="33.47" fill="#c2e2b9" />
<rect x="358.9" y="577.08" width="16.7" height="20.12" fill="#c6acd6" />
<line x1="341.6" y1="545.8" x2="341.6" y2="581.5" stroke="#4aae48" stroke-width="0.8" />
<line x1="337.7" y1="545.8" x2="345.5" y2="545.8" stroke="#4aae48" stroke-width="0.8" />
<line x1="337.7" y1="581.5" x2="345.5" y2="581.5" stroke="#4aae48" stroke-width="0.8" />
<line x1="367.2" y1="566.6" x2="367.2" y2="587.8" stroke="#4b1d68" stroke-width="0.8" />
<line x1="363.3" y1="566.6" x2="371.1" y2="566.6" stroke="#4b1d68" stroke-width="0.8" />
<line x1="363.3" y1="587.8" x2="371.1" y2="587.8" stroke="#4b1d68" stroke-width="0.8" />
<circle cx="341.6" cy="523.5" r="1.15" fill="#4aae48"/>
<circle cx="341.6" cy="540" r="1.15" fill="#4aae48"/>
<circle cx="345.9" cy="564" r="1.15" fill="#4aae48"/>
<circle cx="341.6" cy="567" r="1.15" fill="#4aae48"/>
<circle cx="337.6" cy="570.2" r="1.15" fill="#4aae48"/>
<circle cx="345.9" cy="570.2" r="1.15" fill="#4aae48"/>
<circle cx="341.6" cy="572.4" r="1.15" fill="#4aae48"/>
<circle cx="337.6" cy="576" r="1.15" fill="#4aae48"/>
<circle cx="345.9" cy="576.8" r="1.15" fill="#4aae48"/>
<circle cx="341.6" cy="578.4" r="1.15" fill="#4aae48"/>
<path d="M365.8,558.78 L368.2,558.78 L367,556.62 Z" fill="#4b1d68"/>
<path d="M365.8,565.38 L368.2,565.38 L367,563.22 Z" fill="#4b1d68"/>
<path d="M361.4,570.08 L363.8,570.08 L362.6,567.92 Z" fill="#4b1d68"/>
<path d="M370.2,570.08 L372.6,570.08 L371.4,567.92 Z" fill="#4b1d68"/>
<path d="M361.4,579.08 L363.8,579.08 L362.6,576.92 Z" fill="#4b1d68"/>
<path d="M365.8,579.08 L368.2,579.08 L367,576.92 Z" fill="#4b1d68"/>
<path d="M370.2,579.08 L372.6,579.08 L371.4,576.92 Z" fill="#4b1d68"/>
<path d="M370.2,582.58 L372.6,582.58 L371.4,580.42 Z" fill="#4b1d68"/>
<path d="M361.4,586.48 L363.8,586.48 L362.6,584.32 Z" fill="#4b1d68"/>
<path d="M365.8,586.98 L368.2,586.98 L367,584.82 Z" fill="#4b1d68"/>
<path d="M365.8,594.88 L368.2,594.88 L367,592.72 Z" fill="#4b1d68"/>
<path d="M370.2,593.58 L372.6,593.58 L371.4,591.42 Z" fill="#4b1d68"/>
<line x1="341.6" y1="515.2" x2="365.1" y2="515.2" stroke="#555" stroke-width="0.9" />
<text stroke="#231f20" stroke-width="0.3" x="353.2" y="514.06" font-size="6" text-anchor="middle">*</text>
<text stroke="#231f20" stroke-width="0.3" transform="translate(304.6,552.3) rotate(-90)" x="0" y="0" font-size="7.8" text-anchor="middle" textLength="85.5" lengthAdjust="spacingAndGlyphs">Relative AML engraftment (%)</text>
</svg>
</div>
<div id="frame"></div>
</body></html>
